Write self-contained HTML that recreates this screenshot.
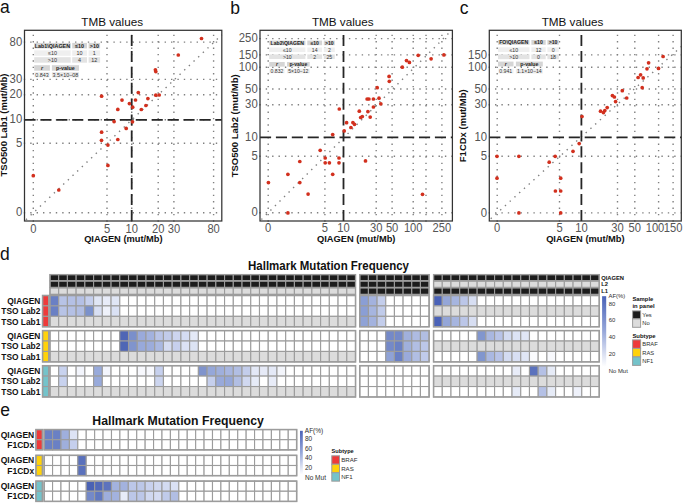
<!DOCTYPE html>
<html><head><meta charset="utf-8"><style>
html,body{margin:0;padding:0;background:#fff;width:685px;height:503px;overflow:hidden;}
svg{display:block;font-family:"Liberation Sans", sans-serif;}
</style></head><body>
<svg width="685" height="503" viewBox="0 0 685 503" font-family='"Liberation Sans", sans-serif'>
<rect x="0" y="0" width="685" height="503" fill="#ffffff"/>
<line x1="33.30" y1="221.70" x2="33.30" y2="30.30" stroke="#808080" stroke-width="1.4" stroke-dasharray="1.4 5.0" />
<line x1="107.00" y1="221.70" x2="107.00" y2="30.30" stroke="#808080" stroke-width="1.4" stroke-dasharray="1.4 5.0" />
<line x1="131.70" y1="221.70" x2="131.70" y2="30.30" stroke="#808080" stroke-width="1.4" stroke-dasharray="1.4 5.0" />
<line x1="158.20" y1="221.70" x2="158.20" y2="30.30" stroke="#808080" stroke-width="1.4" stroke-dasharray="1.4 5.0" />
<line x1="173.90" y1="221.70" x2="173.90" y2="30.30" stroke="#808080" stroke-width="1.4" stroke-dasharray="1.4 5.0" />
<line x1="213.60" y1="221.70" x2="213.60" y2="30.30" stroke="#808080" stroke-width="1.4" stroke-dasharray="1.4 5.0" />
<line x1="23.80" y1="42.10" x2="221.80" y2="42.10" stroke="#808080" stroke-width="1.4" stroke-dasharray="1.4 5.0" />
<line x1="23.80" y1="79.40" x2="221.80" y2="79.40" stroke="#808080" stroke-width="1.4" stroke-dasharray="1.4 5.0" />
<line x1="23.80" y1="94.80" x2="221.80" y2="94.80" stroke="#808080" stroke-width="1.4" stroke-dasharray="1.4 5.0" />
<line x1="23.80" y1="119.80" x2="221.80" y2="119.80" stroke="#808080" stroke-width="1.4" stroke-dasharray="1.4 5.0" />
<line x1="23.80" y1="143.20" x2="221.80" y2="143.20" stroke="#808080" stroke-width="1.4" stroke-dasharray="1.4 5.0" />
<line x1="23.80" y1="212.80" x2="221.80" y2="212.80" stroke="#808080" stroke-width="1.4" stroke-dasharray="1.4 5.0" />
<line x1="24.61" y1="221.00" x2="221.80" y2="34.85" stroke="#808080" stroke-width="1.4" stroke-dasharray="1.4 5.0" stroke-dashoffset="-1.9"/>
<line x1="131.70" y1="221.00" x2="131.70" y2="30.30" stroke="#262626" stroke-width="1.8" stroke-dasharray="11.1 4.8" />
<line x1="24.50" y1="119.80" x2="221.80" y2="119.80" stroke="#262626" stroke-width="1.8" stroke-dasharray="11.1 4.8" />
<rect x="34.20" y="42.90" width="36.50" height="5.50" fill="#d5d5d5" stroke="none" stroke-width="0" />
<rect x="72.20" y="42.90" width="14.80" height="5.50" fill="#d5d5d5" stroke="none" stroke-width="0" />
<rect x="88.60" y="42.90" width="11.50" height="5.50" fill="#d5d5d5" stroke="none" stroke-width="0" />
<rect x="34.20" y="50.30" width="36.50" height="5.50" fill="#efefef" stroke="none" stroke-width="0" />
<rect x="72.20" y="50.30" width="14.80" height="5.50" fill="#efefef" stroke="none" stroke-width="0" />
<rect x="88.60" y="50.30" width="11.50" height="5.50" fill="#efefef" stroke="none" stroke-width="0" />
<rect x="34.20" y="57.20" width="36.50" height="5.50" fill="#e3e3e3" stroke="none" stroke-width="0" />
<rect x="72.20" y="57.20" width="14.80" height="5.50" fill="#e3e3e3" stroke="none" stroke-width="0" />
<rect x="88.60" y="57.20" width="11.50" height="5.50" fill="#e3e3e3" stroke="none" stroke-width="0" />
<rect x="34.20" y="65.20" width="15.70" height="5.50" fill="#d5d5d5" stroke="none" stroke-width="0" />
<rect x="34.20" y="72.00" width="15.70" height="5.50" fill="#f2f2f2" stroke="none" stroke-width="0" />
<rect x="51.90" y="65.20" width="27.10" height="5.50" fill="#d5d5d5" stroke="none" stroke-width="0" />
<rect x="51.90" y="72.00" width="27.10" height="5.50" fill="#ebebeb" stroke="none" stroke-width="0" />
<text x="52.45" y="47.56" font-size="5.4" text-anchor="middle" font-weight="bold" fill="#1e1e1e" >Lab1\QIAGEN</text>
<text x="79.60" y="47.56" font-size="5.4" text-anchor="middle" font-weight="bold" fill="#1e1e1e" >≤10</text>
<text x="94.35" y="47.56" font-size="5.4" text-anchor="middle" font-weight="bold" fill="#1e1e1e" >&gt;10</text>
<text x="52.45" y="54.96" font-size="5.4" text-anchor="middle" font-weight="normal" fill="#333" >≤10</text>
<text x="79.60" y="54.96" font-size="5.4" text-anchor="middle" font-weight="normal" fill="#333" >10</text>
<text x="94.35" y="54.96" font-size="5.4" text-anchor="middle" font-weight="normal" fill="#333" >1</text>
<text x="52.45" y="61.86" font-size="5.4" text-anchor="middle" font-weight="normal" fill="#333" >&gt;10</text>
<text x="79.60" y="61.86" font-size="5.4" text-anchor="middle" font-weight="normal" fill="#333" >4</text>
<text x="94.35" y="61.86" font-size="5.4" text-anchor="middle" font-weight="normal" fill="#333" >12</text>
<text x="42.05" y="69.86" font-size="5.4" text-anchor="middle" font-weight="bold" fill="#1e1e1e" font-style="italic">r</text>
<text x="42.05" y="76.66" font-size="5.4" text-anchor="middle" font-weight="normal" fill="#333" >0.843</text>
<text x="65.45" y="69.86" font-size="5.4" text-anchor="middle" font-weight="bold" fill="#1e1e1e" >p-value</text>
<text x="65.45" y="76.66" font-size="5.4" text-anchor="middle" font-weight="normal" fill="#333" >3.5×10−08</text>
<circle cx="201.5" cy="38.5" r="1.85" fill="#d2301e"/>
<circle cx="178.3" cy="55.0" r="1.85" fill="#d2301e"/>
<circle cx="155.4" cy="69.8" r="1.85" fill="#d2301e"/>
<circle cx="155.8" cy="71.6" r="1.85" fill="#d2301e"/>
<circle cx="138.3" cy="92.6" r="1.85" fill="#d2301e"/>
<circle cx="155.8" cy="95.2" r="1.85" fill="#d2301e"/>
<circle cx="159.2" cy="95.0" r="1.85" fill="#d2301e"/>
<circle cx="147.9" cy="98.6" r="1.85" fill="#d2301e"/>
<circle cx="135.5" cy="100.0" r="1.85" fill="#d2301e"/>
<circle cx="129.4" cy="103.6" r="1.85" fill="#d2301e"/>
<circle cx="145.9" cy="105.5" r="1.85" fill="#d2301e"/>
<circle cx="132.7" cy="107.2" r="1.85" fill="#d2301e"/>
<circle cx="141.3" cy="109.5" r="1.85" fill="#d2301e"/>
<circle cx="132.5" cy="121.8" r="1.85" fill="#d2301e"/>
<circle cx="126.2" cy="128.4" r="1.85" fill="#d2301e"/>
<circle cx="101.6" cy="132.2" r="1.85" fill="#d2301e"/>
<circle cx="101.5" cy="140.3" r="1.85" fill="#d2301e"/>
<circle cx="117.8" cy="139.5" r="1.85" fill="#d2301e"/>
<circle cx="107.9" cy="145.1" r="1.85" fill="#d2301e"/>
<circle cx="107.9" cy="165.4" r="1.85" fill="#d2301e"/>
<circle cx="33.3" cy="175.7" r="1.85" fill="#d2301e"/>
<circle cx="58.8" cy="190.0" r="1.85" fill="#d2301e"/>
<circle cx="101.6" cy="96.2" r="1.85" fill="#d2301e"/>
<circle cx="122.0" cy="100.1" r="1.85" fill="#d2301e"/>
<circle cx="117.8" cy="109.4" r="1.85" fill="#d2301e"/>
<circle cx="114.1" cy="121.6" r="1.85" fill="#d2301e"/>
<rect x="24.50" y="30.30" width="197.30" height="190.70" fill="none" stroke="#333333" stroke-width="1.25" />
<text transform="translate(22.20,45.70) scale(0.9,1)" font-size="12.6" text-anchor="end" font-weight="normal" fill="#555555" >80</text>
<text transform="translate(22.20,82.90) scale(0.9,1)" font-size="12.6" text-anchor="end" font-weight="normal" fill="#555555" >30</text>
<text transform="translate(22.20,98.40) scale(0.9,1)" font-size="12.6" text-anchor="end" font-weight="normal" fill="#555555" >20</text>
<text transform="translate(22.20,123.40) scale(0.9,1)" font-size="12.6" text-anchor="end" font-weight="normal" fill="#555555" >10</text>
<text transform="translate(22.20,146.80) scale(0.9,1)" font-size="12.6" text-anchor="end" font-weight="normal" fill="#555555" >5</text>
<text transform="translate(22.20,216.40) scale(0.9,1)" font-size="12.6" text-anchor="end" font-weight="normal" fill="#555555" >0</text>
<text transform="translate(33.30,233.00) scale(0.91,1)" font-size="12.3" text-anchor="middle" font-weight="normal" fill="#555555" >0</text>
<text transform="translate(107.00,233.00) scale(0.91,1)" font-size="12.3" text-anchor="middle" font-weight="normal" fill="#555555" >5</text>
<text transform="translate(131.70,233.00) scale(0.91,1)" font-size="12.3" text-anchor="middle" font-weight="normal" fill="#555555" >10</text>
<text transform="translate(158.20,233.00) scale(0.91,1)" font-size="12.3" text-anchor="middle" font-weight="normal" fill="#555555" >20</text>
<text transform="translate(173.90,233.00) scale(0.91,1)" font-size="12.3" text-anchor="middle" font-weight="normal" fill="#555555" >30</text>
<text transform="translate(213.60,233.00) scale(0.91,1)" font-size="12.3" text-anchor="middle" font-weight="normal" fill="#555555" >80</text>
<text x="123.40" y="241.50" font-size="9.3" text-anchor="middle" font-weight="bold" fill="#111" >QIAGEN (mut/Mb)</text>
<text x="0" y="0" font-size="9.5" font-weight="bold" fill="#111" text-anchor="middle" transform="translate(7.4,125.0) rotate(-90)">TSO500 Lab1 (mut/Mb)</text>
<text x="112.20" y="25.80" font-size="11.7" text-anchor="middle" font-weight="normal" fill="#111" >TMB values</text>
<text x="0.00" y="13.00" font-size="17.5" text-anchor="start" font-weight="normal" fill="#111" >a</text>
<line x1="268.20" y1="221.70" x2="268.20" y2="30.30" stroke="#808080" stroke-width="1.4" stroke-dasharray="1.4 5.0" />
<line x1="324.90" y1="221.70" x2="324.90" y2="30.30" stroke="#808080" stroke-width="1.4" stroke-dasharray="1.4 5.0" />
<line x1="376.20" y1="221.70" x2="376.20" y2="30.30" stroke="#808080" stroke-width="1.4" stroke-dasharray="1.4 5.0" />
<line x1="392.10" y1="221.70" x2="392.10" y2="30.30" stroke="#808080" stroke-width="1.4" stroke-dasharray="1.4 5.0" />
<line x1="413.20" y1="221.70" x2="413.20" y2="30.30" stroke="#808080" stroke-width="1.4" stroke-dasharray="1.4 5.0" />
<line x1="426.00" y1="221.70" x2="426.00" y2="30.30" stroke="#808080" stroke-width="1.4" stroke-dasharray="1.4 5.0" />
<line x1="441.90" y1="221.70" x2="441.90" y2="30.30" stroke="#808080" stroke-width="1.4" stroke-dasharray="1.4 5.0" />
<line x1="259.30" y1="38.60" x2="452.40" y2="38.60" stroke="#808080" stroke-width="1.4" stroke-dasharray="1.4 5.0" />
<line x1="259.30" y1="54.90" x2="452.40" y2="54.90" stroke="#808080" stroke-width="1.4" stroke-dasharray="1.4 5.0" />
<line x1="259.30" y1="67.20" x2="452.40" y2="67.20" stroke="#808080" stroke-width="1.4" stroke-dasharray="1.4 5.0" />
<line x1="259.30" y1="89.00" x2="452.40" y2="89.00" stroke="#808080" stroke-width="1.4" stroke-dasharray="1.4 5.0" />
<line x1="259.30" y1="104.80" x2="452.40" y2="104.80" stroke="#808080" stroke-width="1.4" stroke-dasharray="1.4 5.0" />
<line x1="259.30" y1="156.20" x2="452.40" y2="156.20" stroke="#808080" stroke-width="1.4" stroke-dasharray="1.4 5.0" />
<line x1="259.30" y1="212.80" x2="452.40" y2="212.80" stroke="#808080" stroke-width="1.4" stroke-dasharray="1.4 5.0" />
<line x1="260.00" y1="220.95" x2="451.74" y2="30.30" stroke="#808080" stroke-width="1.4" stroke-dasharray="1.4 5.0" stroke-dashoffset="-1.9"/>
<line x1="343.50" y1="221.00" x2="343.50" y2="30.30" stroke="#262626" stroke-width="1.8" stroke-dasharray="11.1 4.8" />
<line x1="260.00" y1="137.40" x2="452.40" y2="137.40" stroke="#262626" stroke-width="1.8" stroke-dasharray="11.1 4.8" />
<rect x="269.20" y="40.60" width="36.20" height="4.60" fill="#d5d5d5" stroke="none" stroke-width="0" />
<rect x="307.30" y="40.60" width="14.80" height="4.60" fill="#d5d5d5" stroke="none" stroke-width="0" />
<rect x="323.80" y="40.60" width="11.00" height="4.60" fill="#d5d5d5" stroke="none" stroke-width="0" />
<rect x="269.20" y="47.50" width="36.20" height="4.60" fill="#efefef" stroke="none" stroke-width="0" />
<rect x="307.30" y="47.50" width="14.80" height="4.60" fill="#efefef" stroke="none" stroke-width="0" />
<rect x="323.80" y="47.50" width="11.00" height="4.60" fill="#efefef" stroke="none" stroke-width="0" />
<rect x="269.20" y="54.40" width="36.20" height="4.60" fill="#e3e3e3" stroke="none" stroke-width="0" />
<rect x="307.30" y="54.40" width="14.80" height="4.60" fill="#e3e3e3" stroke="none" stroke-width="0" />
<rect x="323.80" y="54.40" width="11.00" height="4.60" fill="#e3e3e3" stroke="none" stroke-width="0" />
<rect x="269.20" y="62.00" width="15.50" height="4.60" fill="#d5d5d5" stroke="none" stroke-width="0" />
<rect x="269.20" y="68.70" width="15.50" height="4.60" fill="#f2f2f2" stroke="none" stroke-width="0" />
<rect x="287.00" y="62.00" width="22.70" height="4.60" fill="#d5d5d5" stroke="none" stroke-width="0" />
<rect x="287.00" y="68.70" width="22.70" height="4.60" fill="#ebebeb" stroke="none" stroke-width="0" />
<text x="287.30" y="44.74" font-size="5.1" text-anchor="middle" font-weight="bold" fill="#1e1e1e" >Lab2\QIAGEN</text>
<text x="314.70" y="44.74" font-size="5.1" text-anchor="middle" font-weight="bold" fill="#1e1e1e" >≤10</text>
<text x="329.30" y="44.74" font-size="5.1" text-anchor="middle" font-weight="bold" fill="#1e1e1e" >&gt;10</text>
<text x="287.30" y="51.64" font-size="5.1" text-anchor="middle" font-weight="normal" fill="#333" >≤10</text>
<text x="314.70" y="51.64" font-size="5.1" text-anchor="middle" font-weight="normal" fill="#333" >14</text>
<text x="329.30" y="51.64" font-size="5.1" text-anchor="middle" font-weight="normal" fill="#333" >2</text>
<text x="287.30" y="58.54" font-size="5.1" text-anchor="middle" font-weight="normal" fill="#333" >&gt;10</text>
<text x="314.70" y="58.54" font-size="5.1" text-anchor="middle" font-weight="normal" fill="#333" >2</text>
<text x="329.30" y="58.54" font-size="5.1" text-anchor="middle" font-weight="normal" fill="#333" >25</text>
<text x="276.95" y="66.14" font-size="5.1" text-anchor="middle" font-weight="bold" fill="#1e1e1e" font-style="italic">r</text>
<text x="276.95" y="72.84" font-size="5.1" text-anchor="middle" font-weight="normal" fill="#333" >0.832</text>
<text x="298.35" y="66.14" font-size="5.1" text-anchor="middle" font-weight="bold" fill="#1e1e1e" >p-value</text>
<text x="298.35" y="72.84" font-size="5.1" text-anchor="middle" font-weight="normal" fill="#333" >5×10−12</text>
<circle cx="418.2" cy="55.3" r="1.85" fill="#d2301e"/>
<circle cx="431.1" cy="58.8" r="1.85" fill="#d2301e"/>
<circle cx="443.9" cy="54.9" r="1.85" fill="#d2301e"/>
<circle cx="406.5" cy="60.6" r="1.85" fill="#d2301e"/>
<circle cx="409.4" cy="62.4" r="1.85" fill="#d2301e"/>
<circle cx="402.3" cy="67.2" r="1.85" fill="#d2301e"/>
<circle cx="389.1" cy="76.4" r="1.85" fill="#d2301e"/>
<circle cx="389.3" cy="81.3" r="1.85" fill="#d2301e"/>
<circle cx="377.2" cy="87.7" r="1.85" fill="#d2301e"/>
<circle cx="367.1" cy="99.0" r="1.85" fill="#d2301e"/>
<circle cx="368.9" cy="99.0" r="1.85" fill="#d2301e"/>
<circle cx="373.4" cy="99.0" r="1.85" fill="#d2301e"/>
<circle cx="379.0" cy="98.2" r="1.85" fill="#d2301e"/>
<circle cx="380.8" cy="103.8" r="1.85" fill="#d2301e"/>
<circle cx="373.4" cy="107.0" r="1.85" fill="#d2301e"/>
<circle cx="359.3" cy="111.2" r="1.85" fill="#d2301e"/>
<circle cx="367.9" cy="111.6" r="1.85" fill="#d2301e"/>
<circle cx="360.7" cy="117.5" r="1.85" fill="#d2301e"/>
<circle cx="362.3" cy="116.5" r="1.85" fill="#d2301e"/>
<circle cx="370.2" cy="117.1" r="1.85" fill="#d2301e"/>
<circle cx="346.6" cy="122.7" r="1.85" fill="#d2301e"/>
<circle cx="352.9" cy="122.5" r="1.85" fill="#d2301e"/>
<circle cx="354.5" cy="124.3" r="1.85" fill="#d2301e"/>
<circle cx="350.9" cy="127.5" r="1.85" fill="#d2301e"/>
<circle cx="344.2" cy="130.9" r="1.85" fill="#d2301e"/>
<circle cx="365.5" cy="160.9" r="1.85" fill="#d2301e"/>
<circle cx="422.5" cy="194.3" r="1.85" fill="#d2301e"/>
<circle cx="332.7" cy="134.6" r="1.85" fill="#d2301e"/>
<circle cx="320.2" cy="150.3" r="1.85" fill="#d2301e"/>
<circle cx="325.2" cy="158.0" r="1.85" fill="#d2301e"/>
<circle cx="339.0" cy="158.0" r="1.85" fill="#d2301e"/>
<circle cx="299.8" cy="161.5" r="1.85" fill="#d2301e"/>
<circle cx="325.2" cy="162.8" r="1.85" fill="#d2301e"/>
<circle cx="329.4" cy="162.8" r="1.85" fill="#d2301e"/>
<circle cx="339.0" cy="162.8" r="1.85" fill="#d2301e"/>
<circle cx="287.9" cy="174.3" r="1.85" fill="#d2301e"/>
<circle cx="332.7" cy="174.3" r="1.85" fill="#d2301e"/>
<circle cx="268.4" cy="182.6" r="1.85" fill="#d2301e"/>
<circle cx="299.8" cy="182.6" r="1.85" fill="#d2301e"/>
<circle cx="308.1" cy="194.1" r="1.85" fill="#d2301e"/>
<circle cx="287.9" cy="212.9" r="1.85" fill="#d2301e"/>
<circle cx="339.3" cy="109.0" r="1.85" fill="#d2301e"/>
<rect x="260.00" y="30.30" width="192.40" height="190.70" fill="none" stroke="#333333" stroke-width="1.25" />
<text transform="translate(257.70,42.20) scale(0.9,1)" font-size="12.6" text-anchor="end" font-weight="normal" fill="#555555" >250</text>
<text transform="translate(257.70,58.50) scale(0.9,1)" font-size="12.6" text-anchor="end" font-weight="normal" fill="#555555" >150</text>
<text transform="translate(257.70,70.80) scale(0.9,1)" font-size="12.6" text-anchor="end" font-weight="normal" fill="#555555" >100</text>
<text transform="translate(257.70,92.60) scale(0.9,1)" font-size="12.6" text-anchor="end" font-weight="normal" fill="#555555" >50</text>
<text transform="translate(257.70,108.40) scale(0.9,1)" font-size="12.6" text-anchor="end" font-weight="normal" fill="#555555" >30</text>
<text transform="translate(257.70,141.00) scale(0.9,1)" font-size="12.6" text-anchor="end" font-weight="normal" fill="#555555" >10</text>
<text transform="translate(257.70,159.80) scale(0.9,1)" font-size="12.6" text-anchor="end" font-weight="normal" fill="#555555" >5</text>
<text transform="translate(257.70,216.40) scale(0.9,1)" font-size="12.6" text-anchor="end" font-weight="normal" fill="#555555" >0</text>
<text transform="translate(268.20,232.20) scale(0.91,1)" font-size="12.3" text-anchor="middle" font-weight="normal" fill="#555555" >0</text>
<text transform="translate(324.90,232.20) scale(0.91,1)" font-size="12.3" text-anchor="middle" font-weight="normal" fill="#555555" >5</text>
<text transform="translate(343.50,232.20) scale(0.91,1)" font-size="12.3" text-anchor="middle" font-weight="normal" fill="#555555" >10</text>
<text transform="translate(376.20,232.20) scale(0.91,1)" font-size="12.3" text-anchor="middle" font-weight="normal" fill="#555555" >30</text>
<text transform="translate(392.10,232.20) scale(0.91,1)" font-size="12.3" text-anchor="middle" font-weight="normal" fill="#555555" >50</text>
<text transform="translate(413.20,232.20) scale(0.91,1)" font-size="12.3" text-anchor="middle" font-weight="normal" fill="#555555" >100</text>
<text transform="translate(441.90,232.20) scale(0.91,1)" font-size="12.3" text-anchor="middle" font-weight="normal" fill="#555555" >250</text>
<text x="356.20" y="241.50" font-size="9.3" text-anchor="middle" font-weight="bold" fill="#111" >QIAGEN (mut/Mb)</text>
<text x="0" y="0" font-size="9.5" font-weight="bold" fill="#111" text-anchor="middle" transform="translate(238.3,125.8) rotate(-90)">TSO500 Lab2 (mut/Mb)</text>
<text x="342.80" y="25.80" font-size="11.7" text-anchor="middle" font-weight="normal" fill="#111" >TMB values</text>
<text x="230.20" y="13.80" font-size="17.5" text-anchor="start" font-weight="normal" fill="#111" >b</text>
<line x1="497.20" y1="221.70" x2="497.20" y2="30.30" stroke="#808080" stroke-width="1.4" stroke-dasharray="1.4 5.0" />
<line x1="559.50" y1="221.70" x2="559.50" y2="30.30" stroke="#808080" stroke-width="1.4" stroke-dasharray="1.4 5.0" />
<line x1="617.50" y1="221.70" x2="617.50" y2="30.30" stroke="#808080" stroke-width="1.4" stroke-dasharray="1.4 5.0" />
<line x1="634.80" y1="221.70" x2="634.80" y2="30.30" stroke="#808080" stroke-width="1.4" stroke-dasharray="1.4 5.0" />
<line x1="658.60" y1="221.70" x2="658.60" y2="30.30" stroke="#808080" stroke-width="1.4" stroke-dasharray="1.4 5.0" />
<line x1="673.10" y1="221.70" x2="673.10" y2="30.30" stroke="#808080" stroke-width="1.4" stroke-dasharray="1.4 5.0" />
<line x1="488.60" y1="54.90" x2="681.30" y2="54.90" stroke="#808080" stroke-width="1.4" stroke-dasharray="1.4 5.0" />
<line x1="488.60" y1="67.20" x2="681.30" y2="67.20" stroke="#808080" stroke-width="1.4" stroke-dasharray="1.4 5.0" />
<line x1="488.60" y1="89.00" x2="681.30" y2="89.00" stroke="#808080" stroke-width="1.4" stroke-dasharray="1.4 5.0" />
<line x1="488.60" y1="104.80" x2="681.30" y2="104.80" stroke="#808080" stroke-width="1.4" stroke-dasharray="1.4 5.0" />
<line x1="488.60" y1="156.30" x2="681.30" y2="156.30" stroke="#808080" stroke-width="1.4" stroke-dasharray="1.4 5.0" />
<line x1="488.60" y1="212.90" x2="681.30" y2="212.90" stroke="#808080" stroke-width="1.4" stroke-dasharray="1.4 5.0" />
<line x1="489.30" y1="220.04" x2="681.30" y2="46.58" stroke="#808080" stroke-width="1.4" stroke-dasharray="1.4 5.0" stroke-dashoffset="-1.9"/>
<line x1="581.40" y1="221.00" x2="581.40" y2="30.30" stroke="#262626" stroke-width="1.8" stroke-dasharray="11.1 4.8" />
<line x1="489.30" y1="137.30" x2="681.30" y2="137.30" stroke="#262626" stroke-width="1.8" stroke-dasharray="11.1 4.8" />
<rect x="498.00" y="40.00" width="31.50" height="4.80" fill="#d5d5d5" stroke="none" stroke-width="0" />
<rect x="531.40" y="40.00" width="14.30" height="4.80" fill="#d5d5d5" stroke="none" stroke-width="0" />
<rect x="547.40" y="40.00" width="11.40" height="4.80" fill="#d5d5d5" stroke="none" stroke-width="0" />
<rect x="498.00" y="47.30" width="31.50" height="4.80" fill="#efefef" stroke="none" stroke-width="0" />
<rect x="531.40" y="47.30" width="14.30" height="4.80" fill="#efefef" stroke="none" stroke-width="0" />
<rect x="547.40" y="47.30" width="11.40" height="4.80" fill="#efefef" stroke="none" stroke-width="0" />
<rect x="498.00" y="54.40" width="31.50" height="4.80" fill="#e3e3e3" stroke="none" stroke-width="0" />
<rect x="531.40" y="54.40" width="14.30" height="4.80" fill="#e3e3e3" stroke="none" stroke-width="0" />
<rect x="547.40" y="54.40" width="11.40" height="4.80" fill="#e3e3e3" stroke="none" stroke-width="0" />
<rect x="498.00" y="61.60" width="15.50" height="4.80" fill="#d5d5d5" stroke="none" stroke-width="0" />
<rect x="498.00" y="68.70" width="15.50" height="4.80" fill="#f2f2f2" stroke="none" stroke-width="0" />
<rect x="515.90" y="61.60" width="26.90" height="4.80" fill="#d5d5d5" stroke="none" stroke-width="0" />
<rect x="515.90" y="68.70" width="26.90" height="4.80" fill="#ebebeb" stroke="none" stroke-width="0" />
<text x="513.75" y="44.27" font-size="5.2" text-anchor="middle" font-weight="bold" fill="#1e1e1e" >FO\QIAGEN</text>
<text x="538.55" y="44.27" font-size="5.2" text-anchor="middle" font-weight="bold" fill="#1e1e1e" >≤10</text>
<text x="553.10" y="44.27" font-size="5.2" text-anchor="middle" font-weight="bold" fill="#1e1e1e" >&gt;10</text>
<text x="513.75" y="51.57" font-size="5.2" text-anchor="middle" font-weight="normal" fill="#333" >≤10</text>
<text x="538.55" y="51.57" font-size="5.2" text-anchor="middle" font-weight="normal" fill="#333" >12</text>
<text x="553.10" y="51.57" font-size="5.2" text-anchor="middle" font-weight="normal" fill="#333" >0</text>
<text x="513.75" y="58.67" font-size="5.2" text-anchor="middle" font-weight="normal" fill="#333" >&gt;10</text>
<text x="538.55" y="58.67" font-size="5.2" text-anchor="middle" font-weight="normal" fill="#333" >0</text>
<text x="553.10" y="58.67" font-size="5.2" text-anchor="middle" font-weight="normal" fill="#333" >18</text>
<text x="505.75" y="65.87" font-size="5.2" text-anchor="middle" font-weight="bold" fill="#1e1e1e" font-style="italic">r</text>
<text x="505.75" y="72.97" font-size="5.2" text-anchor="middle" font-weight="normal" fill="#333" >0.941</text>
<text x="529.35" y="65.87" font-size="5.2" text-anchor="middle" font-weight="bold" fill="#1e1e1e" >p-value</text>
<text x="529.35" y="72.97" font-size="5.2" text-anchor="middle" font-weight="normal" fill="#333" >1.1×10−14</text>
<circle cx="663.1" cy="56.5" r="1.85" fill="#d2301e"/>
<circle cx="648.6" cy="62.8" r="1.85" fill="#d2301e"/>
<circle cx="647.0" cy="68.8" r="1.85" fill="#d2301e"/>
<circle cx="658.5" cy="68.4" r="1.85" fill="#d2301e"/>
<circle cx="640.6" cy="74.8" r="1.85" fill="#d2301e"/>
<circle cx="638.1" cy="77.5" r="1.85" fill="#d2301e"/>
<circle cx="643.2" cy="77.9" r="1.85" fill="#d2301e"/>
<circle cx="642.2" cy="87.7" r="1.85" fill="#d2301e"/>
<circle cx="622.3" cy="90.7" r="1.85" fill="#d2301e"/>
<circle cx="612.4" cy="95.6" r="1.85" fill="#d2301e"/>
<circle cx="614.4" cy="97.0" r="1.85" fill="#d2301e"/>
<circle cx="626.7" cy="98.0" r="1.85" fill="#d2301e"/>
<circle cx="615.6" cy="101.6" r="1.85" fill="#d2301e"/>
<circle cx="607.2" cy="107.6" r="1.85" fill="#d2301e"/>
<circle cx="600.5" cy="111.2" r="1.85" fill="#d2301e"/>
<circle cx="604.8" cy="110.6" r="1.85" fill="#d2301e"/>
<circle cx="603.4" cy="112.6" r="1.85" fill="#d2301e"/>
<circle cx="582.0" cy="116.5" r="1.85" fill="#d2301e"/>
<circle cx="579.2" cy="143.6" r="1.85" fill="#d2301e"/>
<circle cx="573.0" cy="151.3" r="1.85" fill="#d2301e"/>
<circle cx="497.0" cy="156.3" r="1.85" fill="#d2301e"/>
<circle cx="518.9" cy="156.3" r="1.85" fill="#d2301e"/>
<circle cx="555.2" cy="156.3" r="1.85" fill="#d2301e"/>
<circle cx="549.2" cy="162.2" r="1.85" fill="#d2301e"/>
<circle cx="497.0" cy="178.2" r="1.85" fill="#d2301e"/>
<circle cx="560.7" cy="178.2" r="1.85" fill="#d2301e"/>
<circle cx="555.4" cy="191.0" r="1.85" fill="#d2301e"/>
<circle cx="560.7" cy="191.0" r="1.85" fill="#d2301e"/>
<circle cx="518.9" cy="212.9" r="1.85" fill="#d2301e"/>
<circle cx="560.7" cy="212.9" r="1.85" fill="#d2301e"/>
<rect x="489.30" y="30.30" width="192.00" height="190.70" fill="none" stroke="#333333" stroke-width="1.25" />
<text transform="translate(487.00,58.50) scale(0.9,1)" font-size="12.6" text-anchor="end" font-weight="normal" fill="#555555" >150</text>
<text transform="translate(487.00,70.80) scale(0.9,1)" font-size="12.6" text-anchor="end" font-weight="normal" fill="#555555" >100</text>
<text transform="translate(487.00,92.60) scale(0.9,1)" font-size="12.6" text-anchor="end" font-weight="normal" fill="#555555" >50</text>
<text transform="translate(487.00,108.40) scale(0.9,1)" font-size="12.6" text-anchor="end" font-weight="normal" fill="#555555" >30</text>
<text transform="translate(487.00,140.90) scale(0.9,1)" font-size="12.6" text-anchor="end" font-weight="normal" fill="#555555" >10</text>
<text transform="translate(487.00,159.90) scale(0.9,1)" font-size="12.6" text-anchor="end" font-weight="normal" fill="#555555" >5</text>
<text transform="translate(487.00,216.50) scale(0.9,1)" font-size="12.6" text-anchor="end" font-weight="normal" fill="#555555" >0</text>
<text transform="translate(497.20,232.20) scale(0.91,1)" font-size="12.3" text-anchor="middle" font-weight="normal" fill="#555555" >0</text>
<text transform="translate(559.50,232.20) scale(0.91,1)" font-size="12.3" text-anchor="middle" font-weight="normal" fill="#555555" >5</text>
<text transform="translate(581.40,232.20) scale(0.91,1)" font-size="12.3" text-anchor="middle" font-weight="normal" fill="#555555" >10</text>
<text transform="translate(617.50,232.20) scale(0.91,1)" font-size="12.3" text-anchor="middle" font-weight="normal" fill="#555555" >30</text>
<text transform="translate(634.80,232.20) scale(0.91,1)" font-size="12.3" text-anchor="middle" font-weight="normal" fill="#555555" >50</text>
<text transform="translate(655.00,232.20) scale(0.91,1)" font-size="12.3" text-anchor="middle" font-weight="normal" fill="#555555" >100</text>
<text transform="translate(673.10,232.20) scale(0.91,1)" font-size="12.3" text-anchor="middle" font-weight="normal" fill="#555555" >150</text>
<text x="585.40" y="241.50" font-size="9.3" text-anchor="middle" font-weight="bold" fill="#111" >QIAGEN (mut/Mb)</text>
<text x="0" y="0" font-size="9.5" font-weight="bold" fill="#111" text-anchor="middle" transform="translate(466.1,125.8) rotate(-90)">F1CDx (mut/Mb)</text>
<text x="572.50" y="25.80" font-size="11.7" text-anchor="middle" font-weight="normal" fill="#111" >TMB values</text>
<text x="459.70" y="13.60" font-size="17.5" text-anchor="start" font-weight="normal" fill="#111" >c</text>
<text x="0.00" y="259.90" font-size="17.5" text-anchor="start" font-weight="normal" fill="#111" >d</text>
<text transform="translate(328.50,269.70) scale(0.95,1)" font-size="12.1" text-anchor="middle" font-weight="bold" fill="#111" >Hallmark Mutation Frequency</text>
<rect x="49.95" y="274.60" width="8.73" height="6.20" fill="#1c1c1c" stroke="#9c9c9c" stroke-width="1.1" />
<rect x="58.68" y="274.60" width="8.73" height="6.20" fill="#1c1c1c" stroke="#9c9c9c" stroke-width="1.1" />
<rect x="67.41" y="274.60" width="8.73" height="6.20" fill="#1c1c1c" stroke="#9c9c9c" stroke-width="1.1" />
<rect x="76.14" y="274.60" width="8.73" height="6.20" fill="#1c1c1c" stroke="#9c9c9c" stroke-width="1.1" />
<rect x="84.87" y="274.60" width="8.73" height="6.20" fill="#1c1c1c" stroke="#9c9c9c" stroke-width="1.1" />
<rect x="93.61" y="274.60" width="8.73" height="6.20" fill="#1c1c1c" stroke="#9c9c9c" stroke-width="1.1" />
<rect x="102.34" y="274.60" width="8.73" height="6.20" fill="#1c1c1c" stroke="#9c9c9c" stroke-width="1.1" />
<rect x="111.07" y="274.60" width="8.73" height="6.20" fill="#1c1c1c" stroke="#9c9c9c" stroke-width="1.1" />
<rect x="119.80" y="274.60" width="8.73" height="6.20" fill="#1c1c1c" stroke="#9c9c9c" stroke-width="1.1" />
<rect x="128.53" y="274.60" width="8.73" height="6.20" fill="#1c1c1c" stroke="#9c9c9c" stroke-width="1.1" />
<rect x="137.26" y="274.60" width="8.73" height="6.20" fill="#1c1c1c" stroke="#9c9c9c" stroke-width="1.1" />
<rect x="145.99" y="274.60" width="8.73" height="6.20" fill="#1c1c1c" stroke="#9c9c9c" stroke-width="1.1" />
<rect x="154.72" y="274.60" width="8.73" height="6.20" fill="#1c1c1c" stroke="#9c9c9c" stroke-width="1.1" />
<rect x="163.45" y="274.60" width="8.73" height="6.20" fill="#1c1c1c" stroke="#9c9c9c" stroke-width="1.1" />
<rect x="172.18" y="274.60" width="8.73" height="6.20" fill="#1c1c1c" stroke="#9c9c9c" stroke-width="1.1" />
<rect x="180.92" y="274.60" width="8.73" height="6.20" fill="#1c1c1c" stroke="#9c9c9c" stroke-width="1.1" />
<rect x="189.65" y="274.60" width="8.73" height="6.20" fill="#1c1c1c" stroke="#9c9c9c" stroke-width="1.1" />
<rect x="198.38" y="274.60" width="8.73" height="6.20" fill="#1c1c1c" stroke="#9c9c9c" stroke-width="1.1" />
<rect x="207.11" y="274.60" width="8.73" height="6.20" fill="#1c1c1c" stroke="#9c9c9c" stroke-width="1.1" />
<rect x="215.84" y="274.60" width="8.73" height="6.20" fill="#1c1c1c" stroke="#9c9c9c" stroke-width="1.1" />
<rect x="224.57" y="274.60" width="8.73" height="6.20" fill="#1c1c1c" stroke="#9c9c9c" stroke-width="1.1" />
<rect x="233.30" y="274.60" width="8.73" height="6.20" fill="#1c1c1c" stroke="#9c9c9c" stroke-width="1.1" />
<rect x="242.03" y="274.60" width="8.73" height="6.20" fill="#1c1c1c" stroke="#9c9c9c" stroke-width="1.1" />
<rect x="250.76" y="274.60" width="8.73" height="6.20" fill="#1c1c1c" stroke="#9c9c9c" stroke-width="1.1" />
<rect x="259.49" y="274.60" width="8.73" height="6.20" fill="#1c1c1c" stroke="#9c9c9c" stroke-width="1.1" />
<rect x="268.23" y="274.60" width="8.73" height="6.20" fill="#1c1c1c" stroke="#9c9c9c" stroke-width="1.1" />
<rect x="276.96" y="274.60" width="8.73" height="6.20" fill="#1c1c1c" stroke="#9c9c9c" stroke-width="1.1" />
<rect x="285.69" y="274.60" width="8.73" height="6.20" fill="#1c1c1c" stroke="#9c9c9c" stroke-width="1.1" />
<rect x="294.42" y="274.60" width="8.73" height="6.20" fill="#1c1c1c" stroke="#9c9c9c" stroke-width="1.1" />
<rect x="303.15" y="274.60" width="8.73" height="6.20" fill="#1c1c1c" stroke="#9c9c9c" stroke-width="1.1" />
<rect x="311.88" y="274.60" width="8.73" height="6.20" fill="#1c1c1c" stroke="#9c9c9c" stroke-width="1.1" />
<rect x="320.61" y="274.60" width="8.73" height="6.20" fill="#1c1c1c" stroke="#9c9c9c" stroke-width="1.1" />
<rect x="329.34" y="274.60" width="8.73" height="6.20" fill="#1c1c1c" stroke="#9c9c9c" stroke-width="1.1" />
<rect x="338.07" y="274.60" width="8.73" height="6.20" fill="#1c1c1c" stroke="#9c9c9c" stroke-width="1.1" />
<rect x="346.80" y="274.60" width="8.73" height="6.20" fill="#1c1c1c" stroke="#9c9c9c" stroke-width="1.1" />
<rect x="49.95" y="280.80" width="8.73" height="6.80" fill="#1c1c1c" stroke="#9c9c9c" stroke-width="1.1" />
<rect x="58.68" y="280.80" width="8.73" height="6.80" fill="#1c1c1c" stroke="#9c9c9c" stroke-width="1.1" />
<rect x="67.41" y="280.80" width="8.73" height="6.80" fill="#1c1c1c" stroke="#9c9c9c" stroke-width="1.1" />
<rect x="76.14" y="280.80" width="8.73" height="6.80" fill="#1c1c1c" stroke="#9c9c9c" stroke-width="1.1" />
<rect x="84.87" y="280.80" width="8.73" height="6.80" fill="#1c1c1c" stroke="#9c9c9c" stroke-width="1.1" />
<rect x="93.61" y="280.80" width="8.73" height="6.80" fill="#1c1c1c" stroke="#9c9c9c" stroke-width="1.1" />
<rect x="102.34" y="280.80" width="8.73" height="6.80" fill="#1c1c1c" stroke="#9c9c9c" stroke-width="1.1" />
<rect x="111.07" y="280.80" width="8.73" height="6.80" fill="#1c1c1c" stroke="#9c9c9c" stroke-width="1.1" />
<rect x="119.80" y="280.80" width="8.73" height="6.80" fill="#1c1c1c" stroke="#9c9c9c" stroke-width="1.1" />
<rect x="128.53" y="280.80" width="8.73" height="6.80" fill="#1c1c1c" stroke="#9c9c9c" stroke-width="1.1" />
<rect x="137.26" y="280.80" width="8.73" height="6.80" fill="#1c1c1c" stroke="#9c9c9c" stroke-width="1.1" />
<rect x="145.99" y="280.80" width="8.73" height="6.80" fill="#1c1c1c" stroke="#9c9c9c" stroke-width="1.1" />
<rect x="154.72" y="280.80" width="8.73" height="6.80" fill="#1c1c1c" stroke="#9c9c9c" stroke-width="1.1" />
<rect x="163.45" y="280.80" width="8.73" height="6.80" fill="#1c1c1c" stroke="#9c9c9c" stroke-width="1.1" />
<rect x="172.18" y="280.80" width="8.73" height="6.80" fill="#1c1c1c" stroke="#9c9c9c" stroke-width="1.1" />
<rect x="180.92" y="280.80" width="8.73" height="6.80" fill="#1c1c1c" stroke="#9c9c9c" stroke-width="1.1" />
<rect x="189.65" y="280.80" width="8.73" height="6.80" fill="#1c1c1c" stroke="#9c9c9c" stroke-width="1.1" />
<rect x="198.38" y="280.80" width="8.73" height="6.80" fill="#1c1c1c" stroke="#9c9c9c" stroke-width="1.1" />
<rect x="207.11" y="280.80" width="8.73" height="6.80" fill="#1c1c1c" stroke="#9c9c9c" stroke-width="1.1" />
<rect x="215.84" y="280.80" width="8.73" height="6.80" fill="#1c1c1c" stroke="#9c9c9c" stroke-width="1.1" />
<rect x="224.57" y="280.80" width="8.73" height="6.80" fill="#1c1c1c" stroke="#9c9c9c" stroke-width="1.1" />
<rect x="233.30" y="280.80" width="8.73" height="6.80" fill="#1c1c1c" stroke="#9c9c9c" stroke-width="1.1" />
<rect x="242.03" y="280.80" width="8.73" height="6.80" fill="#1c1c1c" stroke="#9c9c9c" stroke-width="1.1" />
<rect x="250.76" y="280.80" width="8.73" height="6.80" fill="#1c1c1c" stroke="#9c9c9c" stroke-width="1.1" />
<rect x="259.49" y="280.80" width="8.73" height="6.80" fill="#1c1c1c" stroke="#9c9c9c" stroke-width="1.1" />
<rect x="268.23" y="280.80" width="8.73" height="6.80" fill="#1c1c1c" stroke="#9c9c9c" stroke-width="1.1" />
<rect x="276.96" y="280.80" width="8.73" height="6.80" fill="#1c1c1c" stroke="#9c9c9c" stroke-width="1.1" />
<rect x="285.69" y="280.80" width="8.73" height="6.80" fill="#1c1c1c" stroke="#9c9c9c" stroke-width="1.1" />
<rect x="294.42" y="280.80" width="8.73" height="6.80" fill="#1c1c1c" stroke="#9c9c9c" stroke-width="1.1" />
<rect x="303.15" y="280.80" width="8.73" height="6.80" fill="#1c1c1c" stroke="#9c9c9c" stroke-width="1.1" />
<rect x="311.88" y="280.80" width="8.73" height="6.80" fill="#1c1c1c" stroke="#9c9c9c" stroke-width="1.1" />
<rect x="320.61" y="280.80" width="8.73" height="6.80" fill="#1c1c1c" stroke="#9c9c9c" stroke-width="1.1" />
<rect x="329.34" y="280.80" width="8.73" height="6.80" fill="#1c1c1c" stroke="#9c9c9c" stroke-width="1.1" />
<rect x="338.07" y="280.80" width="8.73" height="6.80" fill="#1c1c1c" stroke="#9c9c9c" stroke-width="1.1" />
<rect x="346.80" y="280.80" width="8.73" height="6.80" fill="#1c1c1c" stroke="#9c9c9c" stroke-width="1.1" />
<rect x="49.95" y="287.60" width="8.73" height="6.85" fill="#dcdcdc" stroke="#9c9c9c" stroke-width="1.1" />
<rect x="58.68" y="287.60" width="8.73" height="6.85" fill="#dcdcdc" stroke="#9c9c9c" stroke-width="1.1" />
<rect x="67.41" y="287.60" width="8.73" height="6.85" fill="#dcdcdc" stroke="#9c9c9c" stroke-width="1.1" />
<rect x="76.14" y="287.60" width="8.73" height="6.85" fill="#dcdcdc" stroke="#9c9c9c" stroke-width="1.1" />
<rect x="84.87" y="287.60" width="8.73" height="6.85" fill="#dcdcdc" stroke="#9c9c9c" stroke-width="1.1" />
<rect x="93.61" y="287.60" width="8.73" height="6.85" fill="#dcdcdc" stroke="#9c9c9c" stroke-width="1.1" />
<rect x="102.34" y="287.60" width="8.73" height="6.85" fill="#dcdcdc" stroke="#9c9c9c" stroke-width="1.1" />
<rect x="111.07" y="287.60" width="8.73" height="6.85" fill="#dcdcdc" stroke="#9c9c9c" stroke-width="1.1" />
<rect x="119.80" y="287.60" width="8.73" height="6.85" fill="#dcdcdc" stroke="#9c9c9c" stroke-width="1.1" />
<rect x="128.53" y="287.60" width="8.73" height="6.85" fill="#dcdcdc" stroke="#9c9c9c" stroke-width="1.1" />
<rect x="137.26" y="287.60" width="8.73" height="6.85" fill="#dcdcdc" stroke="#9c9c9c" stroke-width="1.1" />
<rect x="145.99" y="287.60" width="8.73" height="6.85" fill="#dcdcdc" stroke="#9c9c9c" stroke-width="1.1" />
<rect x="154.72" y="287.60" width="8.73" height="6.85" fill="#dcdcdc" stroke="#9c9c9c" stroke-width="1.1" />
<rect x="163.45" y="287.60" width="8.73" height="6.85" fill="#dcdcdc" stroke="#9c9c9c" stroke-width="1.1" />
<rect x="172.18" y="287.60" width="8.73" height="6.85" fill="#dcdcdc" stroke="#9c9c9c" stroke-width="1.1" />
<rect x="180.92" y="287.60" width="8.73" height="6.85" fill="#dcdcdc" stroke="#9c9c9c" stroke-width="1.1" />
<rect x="189.65" y="287.60" width="8.73" height="6.85" fill="#dcdcdc" stroke="#9c9c9c" stroke-width="1.1" />
<rect x="198.38" y="287.60" width="8.73" height="6.85" fill="#dcdcdc" stroke="#9c9c9c" stroke-width="1.1" />
<rect x="207.11" y="287.60" width="8.73" height="6.85" fill="#dcdcdc" stroke="#9c9c9c" stroke-width="1.1" />
<rect x="215.84" y="287.60" width="8.73" height="6.85" fill="#dcdcdc" stroke="#9c9c9c" stroke-width="1.1" />
<rect x="224.57" y="287.60" width="8.73" height="6.85" fill="#dcdcdc" stroke="#9c9c9c" stroke-width="1.1" />
<rect x="233.30" y="287.60" width="8.73" height="6.85" fill="#dcdcdc" stroke="#9c9c9c" stroke-width="1.1" />
<rect x="242.03" y="287.60" width="8.73" height="6.85" fill="#dcdcdc" stroke="#9c9c9c" stroke-width="1.1" />
<rect x="250.76" y="287.60" width="8.73" height="6.85" fill="#dcdcdc" stroke="#9c9c9c" stroke-width="1.1" />
<rect x="259.49" y="287.60" width="8.73" height="6.85" fill="#dcdcdc" stroke="#9c9c9c" stroke-width="1.1" />
<rect x="268.23" y="287.60" width="8.73" height="6.85" fill="#dcdcdc" stroke="#9c9c9c" stroke-width="1.1" />
<rect x="276.96" y="287.60" width="8.73" height="6.85" fill="#dcdcdc" stroke="#9c9c9c" stroke-width="1.1" />
<rect x="285.69" y="287.60" width="8.73" height="6.85" fill="#dcdcdc" stroke="#9c9c9c" stroke-width="1.1" />
<rect x="294.42" y="287.60" width="8.73" height="6.85" fill="#dcdcdc" stroke="#9c9c9c" stroke-width="1.1" />
<rect x="303.15" y="287.60" width="8.73" height="6.85" fill="#dcdcdc" stroke="#9c9c9c" stroke-width="1.1" />
<rect x="311.88" y="287.60" width="8.73" height="6.85" fill="#dcdcdc" stroke="#9c9c9c" stroke-width="1.1" />
<rect x="320.61" y="287.60" width="8.73" height="6.85" fill="#dcdcdc" stroke="#9c9c9c" stroke-width="1.1" />
<rect x="329.34" y="287.60" width="8.73" height="6.85" fill="#dcdcdc" stroke="#9c9c9c" stroke-width="1.1" />
<rect x="338.07" y="287.60" width="8.73" height="6.85" fill="#dcdcdc" stroke="#9c9c9c" stroke-width="1.1" />
<rect x="346.80" y="287.60" width="8.73" height="6.85" fill="#dcdcdc" stroke="#9c9c9c" stroke-width="1.1" />
<line x1="49.95" y1="280.80" x2="355.53" y2="280.80" stroke="#9c9c9c" stroke-width="1.8" />
<line x1="49.95" y1="287.60" x2="355.53" y2="287.60" stroke="#9c9c9c" stroke-width="1.8" />
<rect x="49.95" y="274.60" width="305.58" height="19.85" fill="none" stroke="#9c9c9c" stroke-width="1.3" />
<rect x="359.75" y="274.60" width="8.67" height="6.20" fill="#1c1c1c" stroke="#9c9c9c" stroke-width="1.1" />
<rect x="368.42" y="274.60" width="8.67" height="6.20" fill="#1c1c1c" stroke="#9c9c9c" stroke-width="1.1" />
<rect x="377.09" y="274.60" width="8.67" height="6.20" fill="#1c1c1c" stroke="#9c9c9c" stroke-width="1.1" />
<rect x="385.76" y="274.60" width="8.67" height="6.20" fill="#1c1c1c" stroke="#9c9c9c" stroke-width="1.1" />
<rect x="394.43" y="274.60" width="8.67" height="6.20" fill="#1c1c1c" stroke="#9c9c9c" stroke-width="1.1" />
<rect x="403.10" y="274.60" width="8.67" height="6.20" fill="#1c1c1c" stroke="#9c9c9c" stroke-width="1.1" />
<rect x="411.77" y="274.60" width="8.67" height="6.20" fill="#1c1c1c" stroke="#9c9c9c" stroke-width="1.1" />
<rect x="420.44" y="274.60" width="8.67" height="6.20" fill="#1c1c1c" stroke="#9c9c9c" stroke-width="1.1" />
<rect x="359.75" y="280.80" width="8.67" height="6.80" fill="#1c1c1c" stroke="#9c9c9c" stroke-width="1.1" />
<rect x="368.42" y="280.80" width="8.67" height="6.80" fill="#1c1c1c" stroke="#9c9c9c" stroke-width="1.1" />
<rect x="377.09" y="280.80" width="8.67" height="6.80" fill="#1c1c1c" stroke="#9c9c9c" stroke-width="1.1" />
<rect x="385.76" y="280.80" width="8.67" height="6.80" fill="#1c1c1c" stroke="#9c9c9c" stroke-width="1.1" />
<rect x="394.43" y="280.80" width="8.67" height="6.80" fill="#1c1c1c" stroke="#9c9c9c" stroke-width="1.1" />
<rect x="403.10" y="280.80" width="8.67" height="6.80" fill="#1c1c1c" stroke="#9c9c9c" stroke-width="1.1" />
<rect x="411.77" y="280.80" width="8.67" height="6.80" fill="#1c1c1c" stroke="#9c9c9c" stroke-width="1.1" />
<rect x="420.44" y="280.80" width="8.67" height="6.80" fill="#1c1c1c" stroke="#9c9c9c" stroke-width="1.1" />
<rect x="359.75" y="287.60" width="8.67" height="6.85" fill="#1c1c1c" stroke="#9c9c9c" stroke-width="1.1" />
<rect x="368.42" y="287.60" width="8.67" height="6.85" fill="#1c1c1c" stroke="#9c9c9c" stroke-width="1.1" />
<rect x="377.09" y="287.60" width="8.67" height="6.85" fill="#1c1c1c" stroke="#9c9c9c" stroke-width="1.1" />
<rect x="385.76" y="287.60" width="8.67" height="6.85" fill="#1c1c1c" stroke="#9c9c9c" stroke-width="1.1" />
<rect x="394.43" y="287.60" width="8.67" height="6.85" fill="#1c1c1c" stroke="#9c9c9c" stroke-width="1.1" />
<rect x="403.10" y="287.60" width="8.67" height="6.85" fill="#1c1c1c" stroke="#9c9c9c" stroke-width="1.1" />
<rect x="411.77" y="287.60" width="8.67" height="6.85" fill="#1c1c1c" stroke="#9c9c9c" stroke-width="1.1" />
<rect x="420.44" y="287.60" width="8.67" height="6.85" fill="#1c1c1c" stroke="#9c9c9c" stroke-width="1.1" />
<line x1="359.75" y1="280.80" x2="429.11" y2="280.80" stroke="#9c9c9c" stroke-width="1.8" />
<line x1="359.75" y1="287.60" x2="429.11" y2="287.60" stroke="#9c9c9c" stroke-width="1.8" />
<rect x="359.75" y="274.60" width="69.36" height="19.85" fill="none" stroke="#9c9c9c" stroke-width="1.3" />
<rect x="433.55" y="274.60" width="8.72" height="6.20" fill="#1c1c1c" stroke="#9c9c9c" stroke-width="1.1" />
<rect x="442.27" y="274.60" width="8.72" height="6.20" fill="#1c1c1c" stroke="#9c9c9c" stroke-width="1.1" />
<rect x="450.99" y="274.60" width="8.72" height="6.20" fill="#1c1c1c" stroke="#9c9c9c" stroke-width="1.1" />
<rect x="459.71" y="274.60" width="8.72" height="6.20" fill="#1c1c1c" stroke="#9c9c9c" stroke-width="1.1" />
<rect x="468.43" y="274.60" width="8.72" height="6.20" fill="#1c1c1c" stroke="#9c9c9c" stroke-width="1.1" />
<rect x="477.15" y="274.60" width="8.72" height="6.20" fill="#1c1c1c" stroke="#9c9c9c" stroke-width="1.1" />
<rect x="485.87" y="274.60" width="8.72" height="6.20" fill="#1c1c1c" stroke="#9c9c9c" stroke-width="1.1" />
<rect x="494.59" y="274.60" width="8.72" height="6.20" fill="#1c1c1c" stroke="#9c9c9c" stroke-width="1.1" />
<rect x="503.31" y="274.60" width="8.72" height="6.20" fill="#1c1c1c" stroke="#9c9c9c" stroke-width="1.1" />
<rect x="512.03" y="274.60" width="8.72" height="6.20" fill="#1c1c1c" stroke="#9c9c9c" stroke-width="1.1" />
<rect x="520.75" y="274.60" width="8.72" height="6.20" fill="#1c1c1c" stroke="#9c9c9c" stroke-width="1.1" />
<rect x="529.47" y="274.60" width="8.72" height="6.20" fill="#1c1c1c" stroke="#9c9c9c" stroke-width="1.1" />
<rect x="538.19" y="274.60" width="8.72" height="6.20" fill="#1c1c1c" stroke="#9c9c9c" stroke-width="1.1" />
<rect x="546.91" y="274.60" width="8.72" height="6.20" fill="#1c1c1c" stroke="#9c9c9c" stroke-width="1.1" />
<rect x="555.63" y="274.60" width="8.72" height="6.20" fill="#1c1c1c" stroke="#9c9c9c" stroke-width="1.1" />
<rect x="564.35" y="274.60" width="8.72" height="6.20" fill="#1c1c1c" stroke="#9c9c9c" stroke-width="1.1" />
<rect x="573.07" y="274.60" width="8.72" height="6.20" fill="#1c1c1c" stroke="#9c9c9c" stroke-width="1.1" />
<rect x="581.79" y="274.60" width="8.72" height="6.20" fill="#1c1c1c" stroke="#9c9c9c" stroke-width="1.1" />
<rect x="590.51" y="274.60" width="8.72" height="6.20" fill="#1c1c1c" stroke="#9c9c9c" stroke-width="1.1" />
<rect x="433.55" y="280.80" width="8.72" height="6.80" fill="#dcdcdc" stroke="#9c9c9c" stroke-width="1.1" />
<rect x="442.27" y="280.80" width="8.72" height="6.80" fill="#dcdcdc" stroke="#9c9c9c" stroke-width="1.1" />
<rect x="450.99" y="280.80" width="8.72" height="6.80" fill="#dcdcdc" stroke="#9c9c9c" stroke-width="1.1" />
<rect x="459.71" y="280.80" width="8.72" height="6.80" fill="#dcdcdc" stroke="#9c9c9c" stroke-width="1.1" />
<rect x="468.43" y="280.80" width="8.72" height="6.80" fill="#dcdcdc" stroke="#9c9c9c" stroke-width="1.1" />
<rect x="477.15" y="280.80" width="8.72" height="6.80" fill="#dcdcdc" stroke="#9c9c9c" stroke-width="1.1" />
<rect x="485.87" y="280.80" width="8.72" height="6.80" fill="#dcdcdc" stroke="#9c9c9c" stroke-width="1.1" />
<rect x="494.59" y="280.80" width="8.72" height="6.80" fill="#dcdcdc" stroke="#9c9c9c" stroke-width="1.1" />
<rect x="503.31" y="280.80" width="8.72" height="6.80" fill="#dcdcdc" stroke="#9c9c9c" stroke-width="1.1" />
<rect x="512.03" y="280.80" width="8.72" height="6.80" fill="#dcdcdc" stroke="#9c9c9c" stroke-width="1.1" />
<rect x="520.75" y="280.80" width="8.72" height="6.80" fill="#dcdcdc" stroke="#9c9c9c" stroke-width="1.1" />
<rect x="529.47" y="280.80" width="8.72" height="6.80" fill="#dcdcdc" stroke="#9c9c9c" stroke-width="1.1" />
<rect x="538.19" y="280.80" width="8.72" height="6.80" fill="#dcdcdc" stroke="#9c9c9c" stroke-width="1.1" />
<rect x="546.91" y="280.80" width="8.72" height="6.80" fill="#dcdcdc" stroke="#9c9c9c" stroke-width="1.1" />
<rect x="555.63" y="280.80" width="8.72" height="6.80" fill="#dcdcdc" stroke="#9c9c9c" stroke-width="1.1" />
<rect x="564.35" y="280.80" width="8.72" height="6.80" fill="#dcdcdc" stroke="#9c9c9c" stroke-width="1.1" />
<rect x="573.07" y="280.80" width="8.72" height="6.80" fill="#dcdcdc" stroke="#9c9c9c" stroke-width="1.1" />
<rect x="581.79" y="280.80" width="8.72" height="6.80" fill="#dcdcdc" stroke="#9c9c9c" stroke-width="1.1" />
<rect x="590.51" y="280.80" width="8.72" height="6.80" fill="#dcdcdc" stroke="#9c9c9c" stroke-width="1.1" />
<rect x="433.55" y="287.60" width="8.72" height="6.85" fill="#1c1c1c" stroke="#9c9c9c" stroke-width="1.1" />
<rect x="442.27" y="287.60" width="8.72" height="6.85" fill="#1c1c1c" stroke="#9c9c9c" stroke-width="1.1" />
<rect x="450.99" y="287.60" width="8.72" height="6.85" fill="#1c1c1c" stroke="#9c9c9c" stroke-width="1.1" />
<rect x="459.71" y="287.60" width="8.72" height="6.85" fill="#1c1c1c" stroke="#9c9c9c" stroke-width="1.1" />
<rect x="468.43" y="287.60" width="8.72" height="6.85" fill="#1c1c1c" stroke="#9c9c9c" stroke-width="1.1" />
<rect x="477.15" y="287.60" width="8.72" height="6.85" fill="#1c1c1c" stroke="#9c9c9c" stroke-width="1.1" />
<rect x="485.87" y="287.60" width="8.72" height="6.85" fill="#1c1c1c" stroke="#9c9c9c" stroke-width="1.1" />
<rect x="494.59" y="287.60" width="8.72" height="6.85" fill="#1c1c1c" stroke="#9c9c9c" stroke-width="1.1" />
<rect x="503.31" y="287.60" width="8.72" height="6.85" fill="#1c1c1c" stroke="#9c9c9c" stroke-width="1.1" />
<rect x="512.03" y="287.60" width="8.72" height="6.85" fill="#1c1c1c" stroke="#9c9c9c" stroke-width="1.1" />
<rect x="520.75" y="287.60" width="8.72" height="6.85" fill="#1c1c1c" stroke="#9c9c9c" stroke-width="1.1" />
<rect x="529.47" y="287.60" width="8.72" height="6.85" fill="#1c1c1c" stroke="#9c9c9c" stroke-width="1.1" />
<rect x="538.19" y="287.60" width="8.72" height="6.85" fill="#1c1c1c" stroke="#9c9c9c" stroke-width="1.1" />
<rect x="546.91" y="287.60" width="8.72" height="6.85" fill="#1c1c1c" stroke="#9c9c9c" stroke-width="1.1" />
<rect x="555.63" y="287.60" width="8.72" height="6.85" fill="#1c1c1c" stroke="#9c9c9c" stroke-width="1.1" />
<rect x="564.35" y="287.60" width="8.72" height="6.85" fill="#1c1c1c" stroke="#9c9c9c" stroke-width="1.1" />
<rect x="573.07" y="287.60" width="8.72" height="6.85" fill="#1c1c1c" stroke="#9c9c9c" stroke-width="1.1" />
<rect x="581.79" y="287.60" width="8.72" height="6.85" fill="#1c1c1c" stroke="#9c9c9c" stroke-width="1.1" />
<rect x="590.51" y="287.60" width="8.72" height="6.85" fill="#1c1c1c" stroke="#9c9c9c" stroke-width="1.1" />
<line x1="433.55" y1="280.80" x2="599.23" y2="280.80" stroke="#9c9c9c" stroke-width="1.8" />
<line x1="433.55" y1="287.60" x2="599.23" y2="287.60" stroke="#9c9c9c" stroke-width="1.8" />
<rect x="433.55" y="274.60" width="165.68" height="19.85" fill="none" stroke="#9c9c9c" stroke-width="1.3" />
<rect x="49.95" y="295.50" width="8.73" height="10.42" fill="#6a80c4" stroke="#9c9c9c" stroke-width="1.1" />
<rect x="58.68" y="295.50" width="8.73" height="10.42" fill="#b7c3e6" stroke="#9c9c9c" stroke-width="1.1" />
<rect x="67.41" y="295.50" width="8.73" height="10.42" fill="#b4c0e5" stroke="#9c9c9c" stroke-width="1.1" />
<rect x="76.14" y="295.50" width="8.73" height="10.42" fill="#b4c0e5" stroke="#9c9c9c" stroke-width="1.1" />
<rect x="84.87" y="295.50" width="8.73" height="10.42" fill="#c5cfed" stroke="#9c9c9c" stroke-width="1.1" />
<rect x="93.61" y="295.50" width="8.73" height="10.42" fill="#e0e6f5" stroke="#9c9c9c" stroke-width="1.1" />
<rect x="102.34" y="295.50" width="8.73" height="10.42" fill="#e8ecf8" stroke="#9c9c9c" stroke-width="1.1" />
<rect x="111.07" y="295.50" width="8.73" height="10.42" fill="#e0e6f5" stroke="#9c9c9c" stroke-width="1.1" />
<rect x="119.80" y="295.50" width="8.73" height="10.42" fill="#ffffff" stroke="#9c9c9c" stroke-width="1.1" />
<rect x="128.53" y="295.50" width="8.73" height="10.42" fill="#ffffff" stroke="#9c9c9c" stroke-width="1.1" />
<rect x="137.26" y="295.50" width="8.73" height="10.42" fill="#ffffff" stroke="#9c9c9c" stroke-width="1.1" />
<rect x="145.99" y="295.50" width="8.73" height="10.42" fill="#ffffff" stroke="#9c9c9c" stroke-width="1.1" />
<rect x="154.72" y="295.50" width="8.73" height="10.42" fill="#ffffff" stroke="#9c9c9c" stroke-width="1.1" />
<rect x="163.45" y="295.50" width="8.73" height="10.42" fill="#ffffff" stroke="#9c9c9c" stroke-width="1.1" />
<rect x="172.18" y="295.50" width="8.73" height="10.42" fill="#ffffff" stroke="#9c9c9c" stroke-width="1.1" />
<rect x="180.92" y="295.50" width="8.73" height="10.42" fill="#ffffff" stroke="#9c9c9c" stroke-width="1.1" />
<rect x="189.65" y="295.50" width="8.73" height="10.42" fill="#ffffff" stroke="#9c9c9c" stroke-width="1.1" />
<rect x="198.38" y="295.50" width="8.73" height="10.42" fill="#ffffff" stroke="#9c9c9c" stroke-width="1.1" />
<rect x="207.11" y="295.50" width="8.73" height="10.42" fill="#ffffff" stroke="#9c9c9c" stroke-width="1.1" />
<rect x="215.84" y="295.50" width="8.73" height="10.42" fill="#ffffff" stroke="#9c9c9c" stroke-width="1.1" />
<rect x="224.57" y="295.50" width="8.73" height="10.42" fill="#ffffff" stroke="#9c9c9c" stroke-width="1.1" />
<rect x="233.30" y="295.50" width="8.73" height="10.42" fill="#ffffff" stroke="#9c9c9c" stroke-width="1.1" />
<rect x="242.03" y="295.50" width="8.73" height="10.42" fill="#ffffff" stroke="#9c9c9c" stroke-width="1.1" />
<rect x="250.76" y="295.50" width="8.73" height="10.42" fill="#ffffff" stroke="#9c9c9c" stroke-width="1.1" />
<rect x="259.49" y="295.50" width="8.73" height="10.42" fill="#ffffff" stroke="#9c9c9c" stroke-width="1.1" />
<rect x="268.23" y="295.50" width="8.73" height="10.42" fill="#ffffff" stroke="#9c9c9c" stroke-width="1.1" />
<rect x="276.96" y="295.50" width="8.73" height="10.42" fill="#ffffff" stroke="#9c9c9c" stroke-width="1.1" />
<rect x="285.69" y="295.50" width="8.73" height="10.42" fill="#ffffff" stroke="#9c9c9c" stroke-width="1.1" />
<rect x="294.42" y="295.50" width="8.73" height="10.42" fill="#ffffff" stroke="#9c9c9c" stroke-width="1.1" />
<rect x="303.15" y="295.50" width="8.73" height="10.42" fill="#ffffff" stroke="#9c9c9c" stroke-width="1.1" />
<rect x="311.88" y="295.50" width="8.73" height="10.42" fill="#ffffff" stroke="#9c9c9c" stroke-width="1.1" />
<rect x="320.61" y="295.50" width="8.73" height="10.42" fill="#ffffff" stroke="#9c9c9c" stroke-width="1.1" />
<rect x="329.34" y="295.50" width="8.73" height="10.42" fill="#ffffff" stroke="#9c9c9c" stroke-width="1.1" />
<rect x="338.07" y="295.50" width="8.73" height="10.42" fill="#ffffff" stroke="#9c9c9c" stroke-width="1.1" />
<rect x="346.80" y="295.50" width="8.73" height="10.42" fill="#ffffff" stroke="#9c9c9c" stroke-width="1.1" />
<rect x="49.95" y="305.92" width="8.73" height="10.42" fill="#6a80c4" stroke="#9c9c9c" stroke-width="1.1" />
<rect x="58.68" y="305.92" width="8.73" height="10.42" fill="#b7c3e6" stroke="#9c9c9c" stroke-width="1.1" />
<rect x="67.41" y="305.92" width="8.73" height="10.42" fill="#b4c0e5" stroke="#9c9c9c" stroke-width="1.1" />
<rect x="76.14" y="305.92" width="8.73" height="10.42" fill="#b0bde3" stroke="#9c9c9c" stroke-width="1.1" />
<rect x="84.87" y="305.92" width="8.73" height="10.42" fill="#7b91cb" stroke="#9c9c9c" stroke-width="1.1" />
<rect x="93.61" y="305.92" width="8.73" height="10.42" fill="#d8dff3" stroke="#9c9c9c" stroke-width="1.1" />
<rect x="102.34" y="305.92" width="8.73" height="10.42" fill="#eef1fa" stroke="#9c9c9c" stroke-width="1.1" />
<rect x="111.07" y="305.92" width="8.73" height="10.42" fill="#dae1f4" stroke="#9c9c9c" stroke-width="1.1" />
<rect x="119.80" y="305.92" width="8.73" height="10.42" fill="#ffffff" stroke="#9c9c9c" stroke-width="1.1" />
<rect x="128.53" y="305.92" width="8.73" height="10.42" fill="#ffffff" stroke="#9c9c9c" stroke-width="1.1" />
<rect x="137.26" y="305.92" width="8.73" height="10.42" fill="#ffffff" stroke="#9c9c9c" stroke-width="1.1" />
<rect x="145.99" y="305.92" width="8.73" height="10.42" fill="#ffffff" stroke="#9c9c9c" stroke-width="1.1" />
<rect x="154.72" y="305.92" width="8.73" height="10.42" fill="#ffffff" stroke="#9c9c9c" stroke-width="1.1" />
<rect x="163.45" y="305.92" width="8.73" height="10.42" fill="#ffffff" stroke="#9c9c9c" stroke-width="1.1" />
<rect x="172.18" y="305.92" width="8.73" height="10.42" fill="#ffffff" stroke="#9c9c9c" stroke-width="1.1" />
<rect x="180.92" y="305.92" width="8.73" height="10.42" fill="#ffffff" stroke="#9c9c9c" stroke-width="1.1" />
<rect x="189.65" y="305.92" width="8.73" height="10.42" fill="#ffffff" stroke="#9c9c9c" stroke-width="1.1" />
<rect x="198.38" y="305.92" width="8.73" height="10.42" fill="#ffffff" stroke="#9c9c9c" stroke-width="1.1" />
<rect x="207.11" y="305.92" width="8.73" height="10.42" fill="#ffffff" stroke="#9c9c9c" stroke-width="1.1" />
<rect x="215.84" y="305.92" width="8.73" height="10.42" fill="#ffffff" stroke="#9c9c9c" stroke-width="1.1" />
<rect x="224.57" y="305.92" width="8.73" height="10.42" fill="#ffffff" stroke="#9c9c9c" stroke-width="1.1" />
<rect x="233.30" y="305.92" width="8.73" height="10.42" fill="#ffffff" stroke="#9c9c9c" stroke-width="1.1" />
<rect x="242.03" y="305.92" width="8.73" height="10.42" fill="#ffffff" stroke="#9c9c9c" stroke-width="1.1" />
<rect x="250.76" y="305.92" width="8.73" height="10.42" fill="#ffffff" stroke="#9c9c9c" stroke-width="1.1" />
<rect x="259.49" y="305.92" width="8.73" height="10.42" fill="#ffffff" stroke="#9c9c9c" stroke-width="1.1" />
<rect x="268.23" y="305.92" width="8.73" height="10.42" fill="#ffffff" stroke="#9c9c9c" stroke-width="1.1" />
<rect x="276.96" y="305.92" width="8.73" height="10.42" fill="#ffffff" stroke="#9c9c9c" stroke-width="1.1" />
<rect x="285.69" y="305.92" width="8.73" height="10.42" fill="#ffffff" stroke="#9c9c9c" stroke-width="1.1" />
<rect x="294.42" y="305.92" width="8.73" height="10.42" fill="#ffffff" stroke="#9c9c9c" stroke-width="1.1" />
<rect x="303.15" y="305.92" width="8.73" height="10.42" fill="#ffffff" stroke="#9c9c9c" stroke-width="1.1" />
<rect x="311.88" y="305.92" width="8.73" height="10.42" fill="#ffffff" stroke="#9c9c9c" stroke-width="1.1" />
<rect x="320.61" y="305.92" width="8.73" height="10.42" fill="#ffffff" stroke="#9c9c9c" stroke-width="1.1" />
<rect x="329.34" y="305.92" width="8.73" height="10.42" fill="#ffffff" stroke="#9c9c9c" stroke-width="1.1" />
<rect x="338.07" y="305.92" width="8.73" height="10.42" fill="#ffffff" stroke="#9c9c9c" stroke-width="1.1" />
<rect x="346.80" y="305.92" width="8.73" height="10.42" fill="#ffffff" stroke="#9c9c9c" stroke-width="1.1" />
<rect x="49.95" y="316.34" width="8.73" height="10.42" fill="#dcdcdc" stroke="#9c9c9c" stroke-width="1.1" />
<rect x="58.68" y="316.34" width="8.73" height="10.42" fill="#dcdcdc" stroke="#9c9c9c" stroke-width="1.1" />
<rect x="67.41" y="316.34" width="8.73" height="10.42" fill="#dcdcdc" stroke="#9c9c9c" stroke-width="1.1" />
<rect x="76.14" y="316.34" width="8.73" height="10.42" fill="#dcdcdc" stroke="#9c9c9c" stroke-width="1.1" />
<rect x="84.87" y="316.34" width="8.73" height="10.42" fill="#dcdcdc" stroke="#9c9c9c" stroke-width="1.1" />
<rect x="93.61" y="316.34" width="8.73" height="10.42" fill="#dcdcdc" stroke="#9c9c9c" stroke-width="1.1" />
<rect x="102.34" y="316.34" width="8.73" height="10.42" fill="#dcdcdc" stroke="#9c9c9c" stroke-width="1.1" />
<rect x="111.07" y="316.34" width="8.73" height="10.42" fill="#dcdcdc" stroke="#9c9c9c" stroke-width="1.1" />
<rect x="119.80" y="316.34" width="8.73" height="10.42" fill="#dcdcdc" stroke="#9c9c9c" stroke-width="1.1" />
<rect x="128.53" y="316.34" width="8.73" height="10.42" fill="#dcdcdc" stroke="#9c9c9c" stroke-width="1.1" />
<rect x="137.26" y="316.34" width="8.73" height="10.42" fill="#dcdcdc" stroke="#9c9c9c" stroke-width="1.1" />
<rect x="145.99" y="316.34" width="8.73" height="10.42" fill="#dcdcdc" stroke="#9c9c9c" stroke-width="1.1" />
<rect x="154.72" y="316.34" width="8.73" height="10.42" fill="#dcdcdc" stroke="#9c9c9c" stroke-width="1.1" />
<rect x="163.45" y="316.34" width="8.73" height="10.42" fill="#dcdcdc" stroke="#9c9c9c" stroke-width="1.1" />
<rect x="172.18" y="316.34" width="8.73" height="10.42" fill="#dcdcdc" stroke="#9c9c9c" stroke-width="1.1" />
<rect x="180.92" y="316.34" width="8.73" height="10.42" fill="#dcdcdc" stroke="#9c9c9c" stroke-width="1.1" />
<rect x="189.65" y="316.34" width="8.73" height="10.42" fill="#dcdcdc" stroke="#9c9c9c" stroke-width="1.1" />
<rect x="198.38" y="316.34" width="8.73" height="10.42" fill="#dcdcdc" stroke="#9c9c9c" stroke-width="1.1" />
<rect x="207.11" y="316.34" width="8.73" height="10.42" fill="#dcdcdc" stroke="#9c9c9c" stroke-width="1.1" />
<rect x="215.84" y="316.34" width="8.73" height="10.42" fill="#dcdcdc" stroke="#9c9c9c" stroke-width="1.1" />
<rect x="224.57" y="316.34" width="8.73" height="10.42" fill="#dcdcdc" stroke="#9c9c9c" stroke-width="1.1" />
<rect x="233.30" y="316.34" width="8.73" height="10.42" fill="#dcdcdc" stroke="#9c9c9c" stroke-width="1.1" />
<rect x="242.03" y="316.34" width="8.73" height="10.42" fill="#dcdcdc" stroke="#9c9c9c" stroke-width="1.1" />
<rect x="250.76" y="316.34" width="8.73" height="10.42" fill="#dcdcdc" stroke="#9c9c9c" stroke-width="1.1" />
<rect x="259.49" y="316.34" width="8.73" height="10.42" fill="#dcdcdc" stroke="#9c9c9c" stroke-width="1.1" />
<rect x="268.23" y="316.34" width="8.73" height="10.42" fill="#dcdcdc" stroke="#9c9c9c" stroke-width="1.1" />
<rect x="276.96" y="316.34" width="8.73" height="10.42" fill="#dcdcdc" stroke="#9c9c9c" stroke-width="1.1" />
<rect x="285.69" y="316.34" width="8.73" height="10.42" fill="#dcdcdc" stroke="#9c9c9c" stroke-width="1.1" />
<rect x="294.42" y="316.34" width="8.73" height="10.42" fill="#dcdcdc" stroke="#9c9c9c" stroke-width="1.1" />
<rect x="303.15" y="316.34" width="8.73" height="10.42" fill="#dcdcdc" stroke="#9c9c9c" stroke-width="1.1" />
<rect x="311.88" y="316.34" width="8.73" height="10.42" fill="#dcdcdc" stroke="#9c9c9c" stroke-width="1.1" />
<rect x="320.61" y="316.34" width="8.73" height="10.42" fill="#dcdcdc" stroke="#9c9c9c" stroke-width="1.1" />
<rect x="329.34" y="316.34" width="8.73" height="10.42" fill="#dcdcdc" stroke="#9c9c9c" stroke-width="1.1" />
<rect x="338.07" y="316.34" width="8.73" height="10.42" fill="#dcdcdc" stroke="#9c9c9c" stroke-width="1.1" />
<rect x="346.80" y="316.34" width="8.73" height="10.42" fill="#dcdcdc" stroke="#9c9c9c" stroke-width="1.1" />
<rect x="49.95" y="295.50" width="305.58" height="31.26" fill="none" stroke="#9c9c9c" stroke-width="1.5" />
<rect x="359.75" y="295.50" width="8.67" height="10.42" fill="#8a9ed5" stroke="#9c9c9c" stroke-width="1.1" />
<rect x="368.42" y="295.50" width="8.67" height="10.42" fill="#a3b2de" stroke="#9c9c9c" stroke-width="1.1" />
<rect x="377.09" y="295.50" width="8.67" height="10.42" fill="#c3cdeb" stroke="#9c9c9c" stroke-width="1.1" />
<rect x="385.76" y="295.50" width="8.67" height="10.42" fill="#ffffff" stroke="#9c9c9c" stroke-width="1.1" />
<rect x="394.43" y="295.50" width="8.67" height="10.42" fill="#ffffff" stroke="#9c9c9c" stroke-width="1.1" />
<rect x="403.10" y="295.50" width="8.67" height="10.42" fill="#ffffff" stroke="#9c9c9c" stroke-width="1.1" />
<rect x="411.77" y="295.50" width="8.67" height="10.42" fill="#ffffff" stroke="#9c9c9c" stroke-width="1.1" />
<rect x="420.44" y="295.50" width="8.67" height="10.42" fill="#ffffff" stroke="#9c9c9c" stroke-width="1.1" />
<rect x="359.75" y="305.92" width="8.67" height="10.42" fill="#8a9ed5" stroke="#9c9c9c" stroke-width="1.1" />
<rect x="368.42" y="305.92" width="8.67" height="10.42" fill="#a6b5df" stroke="#9c9c9c" stroke-width="1.1" />
<rect x="377.09" y="305.92" width="8.67" height="10.42" fill="#c0cbea" stroke="#9c9c9c" stroke-width="1.1" />
<rect x="385.76" y="305.92" width="8.67" height="10.42" fill="#ffffff" stroke="#9c9c9c" stroke-width="1.1" />
<rect x="394.43" y="305.92" width="8.67" height="10.42" fill="#ffffff" stroke="#9c9c9c" stroke-width="1.1" />
<rect x="403.10" y="305.92" width="8.67" height="10.42" fill="#ffffff" stroke="#9c9c9c" stroke-width="1.1" />
<rect x="411.77" y="305.92" width="8.67" height="10.42" fill="#ffffff" stroke="#9c9c9c" stroke-width="1.1" />
<rect x="420.44" y="305.92" width="8.67" height="10.42" fill="#ffffff" stroke="#9c9c9c" stroke-width="1.1" />
<rect x="359.75" y="316.34" width="8.67" height="10.42" fill="#8fa2d6" stroke="#9c9c9c" stroke-width="1.1" />
<rect x="368.42" y="316.34" width="8.67" height="10.42" fill="#a3b2de" stroke="#9c9c9c" stroke-width="1.1" />
<rect x="377.09" y="316.34" width="8.67" height="10.42" fill="#c3cdeb" stroke="#9c9c9c" stroke-width="1.1" />
<rect x="385.76" y="316.34" width="8.67" height="10.42" fill="#ffffff" stroke="#9c9c9c" stroke-width="1.1" />
<rect x="394.43" y="316.34" width="8.67" height="10.42" fill="#ffffff" stroke="#9c9c9c" stroke-width="1.1" />
<rect x="403.10" y="316.34" width="8.67" height="10.42" fill="#ffffff" stroke="#9c9c9c" stroke-width="1.1" />
<rect x="411.77" y="316.34" width="8.67" height="10.42" fill="#ffffff" stroke="#9c9c9c" stroke-width="1.1" />
<rect x="420.44" y="316.34" width="8.67" height="10.42" fill="#ffffff" stroke="#9c9c9c" stroke-width="1.1" />
<rect x="359.75" y="295.50" width="69.36" height="31.26" fill="none" stroke="#9c9c9c" stroke-width="1.5" />
<rect x="433.55" y="295.50" width="8.72" height="10.42" fill="#4a62b8" stroke="#9c9c9c" stroke-width="1.1" />
<rect x="442.27" y="295.50" width="8.72" height="10.42" fill="#94a6d8" stroke="#9c9c9c" stroke-width="1.1" />
<rect x="450.99" y="295.50" width="8.72" height="10.42" fill="#a6b5df" stroke="#9c9c9c" stroke-width="1.1" />
<rect x="459.71" y="295.50" width="8.72" height="10.42" fill="#bbc6e8" stroke="#9c9c9c" stroke-width="1.1" />
<rect x="468.43" y="295.50" width="8.72" height="10.42" fill="#d7def2" stroke="#9c9c9c" stroke-width="1.1" />
<rect x="477.15" y="295.50" width="8.72" height="10.42" fill="#ffffff" stroke="#9c9c9c" stroke-width="1.1" />
<rect x="485.87" y="295.50" width="8.72" height="10.42" fill="#ffffff" stroke="#9c9c9c" stroke-width="1.1" />
<rect x="494.59" y="295.50" width="8.72" height="10.42" fill="#ffffff" stroke="#9c9c9c" stroke-width="1.1" />
<rect x="503.31" y="295.50" width="8.72" height="10.42" fill="#ffffff" stroke="#9c9c9c" stroke-width="1.1" />
<rect x="512.03" y="295.50" width="8.72" height="10.42" fill="#ffffff" stroke="#9c9c9c" stroke-width="1.1" />
<rect x="520.75" y="295.50" width="8.72" height="10.42" fill="#ffffff" stroke="#9c9c9c" stroke-width="1.1" />
<rect x="529.47" y="295.50" width="8.72" height="10.42" fill="#ffffff" stroke="#9c9c9c" stroke-width="1.1" />
<rect x="538.19" y="295.50" width="8.72" height="10.42" fill="#ffffff" stroke="#9c9c9c" stroke-width="1.1" />
<rect x="546.91" y="295.50" width="8.72" height="10.42" fill="#ffffff" stroke="#9c9c9c" stroke-width="1.1" />
<rect x="555.63" y="295.50" width="8.72" height="10.42" fill="#ffffff" stroke="#9c9c9c" stroke-width="1.1" />
<rect x="564.35" y="295.50" width="8.72" height="10.42" fill="#ffffff" stroke="#9c9c9c" stroke-width="1.1" />
<rect x="573.07" y="295.50" width="8.72" height="10.42" fill="#ffffff" stroke="#9c9c9c" stroke-width="1.1" />
<rect x="581.79" y="295.50" width="8.72" height="10.42" fill="#ffffff" stroke="#9c9c9c" stroke-width="1.1" />
<rect x="590.51" y="295.50" width="8.72" height="10.42" fill="#ffffff" stroke="#9c9c9c" stroke-width="1.1" />
<rect x="433.55" y="305.92" width="8.72" height="10.42" fill="#dcdcdc" stroke="#9c9c9c" stroke-width="1.1" />
<rect x="442.27" y="305.92" width="8.72" height="10.42" fill="#dcdcdc" stroke="#9c9c9c" stroke-width="1.1" />
<rect x="450.99" y="305.92" width="8.72" height="10.42" fill="#dcdcdc" stroke="#9c9c9c" stroke-width="1.1" />
<rect x="459.71" y="305.92" width="8.72" height="10.42" fill="#dcdcdc" stroke="#9c9c9c" stroke-width="1.1" />
<rect x="468.43" y="305.92" width="8.72" height="10.42" fill="#dcdcdc" stroke="#9c9c9c" stroke-width="1.1" />
<rect x="477.15" y="305.92" width="8.72" height="10.42" fill="#dcdcdc" stroke="#9c9c9c" stroke-width="1.1" />
<rect x="485.87" y="305.92" width="8.72" height="10.42" fill="#dcdcdc" stroke="#9c9c9c" stroke-width="1.1" />
<rect x="494.59" y="305.92" width="8.72" height="10.42" fill="#dcdcdc" stroke="#9c9c9c" stroke-width="1.1" />
<rect x="503.31" y="305.92" width="8.72" height="10.42" fill="#dcdcdc" stroke="#9c9c9c" stroke-width="1.1" />
<rect x="512.03" y="305.92" width="8.72" height="10.42" fill="#dcdcdc" stroke="#9c9c9c" stroke-width="1.1" />
<rect x="520.75" y="305.92" width="8.72" height="10.42" fill="#dcdcdc" stroke="#9c9c9c" stroke-width="1.1" />
<rect x="529.47" y="305.92" width="8.72" height="10.42" fill="#dcdcdc" stroke="#9c9c9c" stroke-width="1.1" />
<rect x="538.19" y="305.92" width="8.72" height="10.42" fill="#dcdcdc" stroke="#9c9c9c" stroke-width="1.1" />
<rect x="546.91" y="305.92" width="8.72" height="10.42" fill="#dcdcdc" stroke="#9c9c9c" stroke-width="1.1" />
<rect x="555.63" y="305.92" width="8.72" height="10.42" fill="#dcdcdc" stroke="#9c9c9c" stroke-width="1.1" />
<rect x="564.35" y="305.92" width="8.72" height="10.42" fill="#dcdcdc" stroke="#9c9c9c" stroke-width="1.1" />
<rect x="573.07" y="305.92" width="8.72" height="10.42" fill="#dcdcdc" stroke="#9c9c9c" stroke-width="1.1" />
<rect x="581.79" y="305.92" width="8.72" height="10.42" fill="#dcdcdc" stroke="#9c9c9c" stroke-width="1.1" />
<rect x="590.51" y="305.92" width="8.72" height="10.42" fill="#dcdcdc" stroke="#9c9c9c" stroke-width="1.1" />
<rect x="433.55" y="316.34" width="8.72" height="10.42" fill="#4a62b8" stroke="#9c9c9c" stroke-width="1.1" />
<rect x="442.27" y="316.34" width="8.72" height="10.42" fill="#94a6d8" stroke="#9c9c9c" stroke-width="1.1" />
<rect x="450.99" y="316.34" width="8.72" height="10.42" fill="#a6b5df" stroke="#9c9c9c" stroke-width="1.1" />
<rect x="459.71" y="316.34" width="8.72" height="10.42" fill="#bbc6e8" stroke="#9c9c9c" stroke-width="1.1" />
<rect x="468.43" y="316.34" width="8.72" height="10.42" fill="#d7def2" stroke="#9c9c9c" stroke-width="1.1" />
<rect x="477.15" y="316.34" width="8.72" height="10.42" fill="#ffffff" stroke="#9c9c9c" stroke-width="1.1" />
<rect x="485.87" y="316.34" width="8.72" height="10.42" fill="#ffffff" stroke="#9c9c9c" stroke-width="1.1" />
<rect x="494.59" y="316.34" width="8.72" height="10.42" fill="#ffffff" stroke="#9c9c9c" stroke-width="1.1" />
<rect x="503.31" y="316.34" width="8.72" height="10.42" fill="#ffffff" stroke="#9c9c9c" stroke-width="1.1" />
<rect x="512.03" y="316.34" width="8.72" height="10.42" fill="#ffffff" stroke="#9c9c9c" stroke-width="1.1" />
<rect x="520.75" y="316.34" width="8.72" height="10.42" fill="#ffffff" stroke="#9c9c9c" stroke-width="1.1" />
<rect x="529.47" y="316.34" width="8.72" height="10.42" fill="#ffffff" stroke="#9c9c9c" stroke-width="1.1" />
<rect x="538.19" y="316.34" width="8.72" height="10.42" fill="#ffffff" stroke="#9c9c9c" stroke-width="1.1" />
<rect x="546.91" y="316.34" width="8.72" height="10.42" fill="#ffffff" stroke="#9c9c9c" stroke-width="1.1" />
<rect x="555.63" y="316.34" width="8.72" height="10.42" fill="#ffffff" stroke="#9c9c9c" stroke-width="1.1" />
<rect x="564.35" y="316.34" width="8.72" height="10.42" fill="#ffffff" stroke="#9c9c9c" stroke-width="1.1" />
<rect x="573.07" y="316.34" width="8.72" height="10.42" fill="#ffffff" stroke="#9c9c9c" stroke-width="1.1" />
<rect x="581.79" y="316.34" width="8.72" height="10.42" fill="#ffffff" stroke="#9c9c9c" stroke-width="1.1" />
<rect x="590.51" y="316.34" width="8.72" height="10.42" fill="#ffffff" stroke="#9c9c9c" stroke-width="1.1" />
<rect x="433.55" y="295.50" width="165.68" height="31.26" fill="none" stroke="#9c9c9c" stroke-width="1.5" />
<rect x="42.55" y="295.50" width="6.20" height="10.42" fill="#ee3a3a" stroke="#9c9c9c" stroke-width="1.1" />
<rect x="42.55" y="305.92" width="6.20" height="10.42" fill="#ee3a3a" stroke="#9c9c9c" stroke-width="1.1" />
<rect x="42.55" y="316.34" width="6.20" height="10.42" fill="#ee3a3a" stroke="#9c9c9c" stroke-width="1.1" />
<rect x="42.55" y="295.50" width="6.20" height="31.26" fill="none" stroke="#9c9c9c" stroke-width="1.5" />
<text x="40.40" y="303.71" font-size="8.4" text-anchor="end" font-weight="bold" fill="#111" >QIAGEN</text>
<text x="40.40" y="314.13" font-size="8.4" text-anchor="end" font-weight="bold" fill="#111" >TSO Lab2</text>
<text x="40.40" y="324.55" font-size="8.4" text-anchor="end" font-weight="bold" fill="#111" >TSO Lab1</text>
<rect x="49.95" y="330.60" width="8.73" height="10.42" fill="#ffffff" stroke="#9c9c9c" stroke-width="1.1" />
<rect x="58.68" y="330.60" width="8.73" height="10.42" fill="#ffffff" stroke="#9c9c9c" stroke-width="1.1" />
<rect x="67.41" y="330.60" width="8.73" height="10.42" fill="#ffffff" stroke="#9c9c9c" stroke-width="1.1" />
<rect x="76.14" y="330.60" width="8.73" height="10.42" fill="#ffffff" stroke="#9c9c9c" stroke-width="1.1" />
<rect x="84.87" y="330.60" width="8.73" height="10.42" fill="#ffffff" stroke="#9c9c9c" stroke-width="1.1" />
<rect x="93.61" y="330.60" width="8.73" height="10.42" fill="#ffffff" stroke="#9c9c9c" stroke-width="1.1" />
<rect x="102.34" y="330.60" width="8.73" height="10.42" fill="#ffffff" stroke="#9c9c9c" stroke-width="1.1" />
<rect x="111.07" y="330.60" width="8.73" height="10.42" fill="#ffffff" stroke="#9c9c9c" stroke-width="1.1" />
<rect x="119.80" y="330.60" width="8.73" height="10.42" fill="#4f66b5" stroke="#9c9c9c" stroke-width="1.1" />
<rect x="128.53" y="330.60" width="8.73" height="10.42" fill="#7a8fcb" stroke="#9c9c9c" stroke-width="1.1" />
<rect x="137.26" y="330.60" width="8.73" height="10.42" fill="#9aaadb" stroke="#9c9c9c" stroke-width="1.1" />
<rect x="145.99" y="330.60" width="8.73" height="10.42" fill="#a3b2de" stroke="#9c9c9c" stroke-width="1.1" />
<rect x="154.72" y="330.60" width="8.73" height="10.42" fill="#b9c4e7" stroke="#9c9c9c" stroke-width="1.1" />
<rect x="163.45" y="330.60" width="8.73" height="10.42" fill="#c1cbea" stroke="#9c9c9c" stroke-width="1.1" />
<rect x="172.18" y="330.60" width="8.73" height="10.42" fill="#cdd5ef" stroke="#9c9c9c" stroke-width="1.1" />
<rect x="180.92" y="330.60" width="8.73" height="10.42" fill="#d4dcf2" stroke="#9c9c9c" stroke-width="1.1" />
<rect x="189.65" y="330.60" width="8.73" height="10.42" fill="#e4e9f7" stroke="#9c9c9c" stroke-width="1.1" />
<rect x="198.38" y="330.60" width="8.73" height="10.42" fill="#ffffff" stroke="#9c9c9c" stroke-width="1.1" />
<rect x="207.11" y="330.60" width="8.73" height="10.42" fill="#ffffff" stroke="#9c9c9c" stroke-width="1.1" />
<rect x="215.84" y="330.60" width="8.73" height="10.42" fill="#ffffff" stroke="#9c9c9c" stroke-width="1.1" />
<rect x="224.57" y="330.60" width="8.73" height="10.42" fill="#ffffff" stroke="#9c9c9c" stroke-width="1.1" />
<rect x="233.30" y="330.60" width="8.73" height="10.42" fill="#ffffff" stroke="#9c9c9c" stroke-width="1.1" />
<rect x="242.03" y="330.60" width="8.73" height="10.42" fill="#ffffff" stroke="#9c9c9c" stroke-width="1.1" />
<rect x="250.76" y="330.60" width="8.73" height="10.42" fill="#ffffff" stroke="#9c9c9c" stroke-width="1.1" />
<rect x="259.49" y="330.60" width="8.73" height="10.42" fill="#ffffff" stroke="#9c9c9c" stroke-width="1.1" />
<rect x="268.23" y="330.60" width="8.73" height="10.42" fill="#ffffff" stroke="#9c9c9c" stroke-width="1.1" />
<rect x="276.96" y="330.60" width="8.73" height="10.42" fill="#ffffff" stroke="#9c9c9c" stroke-width="1.1" />
<rect x="285.69" y="330.60" width="8.73" height="10.42" fill="#ffffff" stroke="#9c9c9c" stroke-width="1.1" />
<rect x="294.42" y="330.60" width="8.73" height="10.42" fill="#ffffff" stroke="#9c9c9c" stroke-width="1.1" />
<rect x="303.15" y="330.60" width="8.73" height="10.42" fill="#ffffff" stroke="#9c9c9c" stroke-width="1.1" />
<rect x="311.88" y="330.60" width="8.73" height="10.42" fill="#ffffff" stroke="#9c9c9c" stroke-width="1.1" />
<rect x="320.61" y="330.60" width="8.73" height="10.42" fill="#ffffff" stroke="#9c9c9c" stroke-width="1.1" />
<rect x="329.34" y="330.60" width="8.73" height="10.42" fill="#ffffff" stroke="#9c9c9c" stroke-width="1.1" />
<rect x="338.07" y="330.60" width="8.73" height="10.42" fill="#ffffff" stroke="#9c9c9c" stroke-width="1.1" />
<rect x="346.80" y="330.60" width="8.73" height="10.42" fill="#ffffff" stroke="#9c9c9c" stroke-width="1.1" />
<rect x="49.95" y="341.02" width="8.73" height="10.42" fill="#ffffff" stroke="#9c9c9c" stroke-width="1.1" />
<rect x="58.68" y="341.02" width="8.73" height="10.42" fill="#ffffff" stroke="#9c9c9c" stroke-width="1.1" />
<rect x="67.41" y="341.02" width="8.73" height="10.42" fill="#ffffff" stroke="#9c9c9c" stroke-width="1.1" />
<rect x="76.14" y="341.02" width="8.73" height="10.42" fill="#ffffff" stroke="#9c9c9c" stroke-width="1.1" />
<rect x="84.87" y="341.02" width="8.73" height="10.42" fill="#ffffff" stroke="#9c9c9c" stroke-width="1.1" />
<rect x="93.61" y="341.02" width="8.73" height="10.42" fill="#ffffff" stroke="#9c9c9c" stroke-width="1.1" />
<rect x="102.34" y="341.02" width="8.73" height="10.42" fill="#ffffff" stroke="#9c9c9c" stroke-width="1.1" />
<rect x="111.07" y="341.02" width="8.73" height="10.42" fill="#ffffff" stroke="#9c9c9c" stroke-width="1.1" />
<rect x="119.80" y="341.02" width="8.73" height="10.42" fill="#4f66b5" stroke="#9c9c9c" stroke-width="1.1" />
<rect x="128.53" y="341.02" width="8.73" height="10.42" fill="#8094cd" stroke="#9c9c9c" stroke-width="1.1" />
<rect x="137.26" y="341.02" width="8.73" height="10.42" fill="#98a9da" stroke="#9c9c9c" stroke-width="1.1" />
<rect x="145.99" y="341.02" width="8.73" height="10.42" fill="#9cacdb" stroke="#9c9c9c" stroke-width="1.1" />
<rect x="154.72" y="341.02" width="8.73" height="10.42" fill="#aab8e1" stroke="#9c9c9c" stroke-width="1.1" />
<rect x="163.45" y="341.02" width="8.73" height="10.42" fill="#d5dcf2" stroke="#9c9c9c" stroke-width="1.1" />
<rect x="172.18" y="341.02" width="8.73" height="10.42" fill="#c7d0ed" stroke="#9c9c9c" stroke-width="1.1" />
<rect x="180.92" y="341.02" width="8.73" height="10.42" fill="#dce2f4" stroke="#9c9c9c" stroke-width="1.1" />
<rect x="189.65" y="341.02" width="8.73" height="10.42" fill="#dce3f4" stroke="#9c9c9c" stroke-width="1.1" />
<rect x="198.38" y="341.02" width="8.73" height="10.42" fill="#ffffff" stroke="#9c9c9c" stroke-width="1.1" />
<rect x="207.11" y="341.02" width="8.73" height="10.42" fill="#ffffff" stroke="#9c9c9c" stroke-width="1.1" />
<rect x="215.84" y="341.02" width="8.73" height="10.42" fill="#ffffff" stroke="#9c9c9c" stroke-width="1.1" />
<rect x="224.57" y="341.02" width="8.73" height="10.42" fill="#ffffff" stroke="#9c9c9c" stroke-width="1.1" />
<rect x="233.30" y="341.02" width="8.73" height="10.42" fill="#ffffff" stroke="#9c9c9c" stroke-width="1.1" />
<rect x="242.03" y="341.02" width="8.73" height="10.42" fill="#ffffff" stroke="#9c9c9c" stroke-width="1.1" />
<rect x="250.76" y="341.02" width="8.73" height="10.42" fill="#ffffff" stroke="#9c9c9c" stroke-width="1.1" />
<rect x="259.49" y="341.02" width="8.73" height="10.42" fill="#ffffff" stroke="#9c9c9c" stroke-width="1.1" />
<rect x="268.23" y="341.02" width="8.73" height="10.42" fill="#ffffff" stroke="#9c9c9c" stroke-width="1.1" />
<rect x="276.96" y="341.02" width="8.73" height="10.42" fill="#ffffff" stroke="#9c9c9c" stroke-width="1.1" />
<rect x="285.69" y="341.02" width="8.73" height="10.42" fill="#ffffff" stroke="#9c9c9c" stroke-width="1.1" />
<rect x="294.42" y="341.02" width="8.73" height="10.42" fill="#ffffff" stroke="#9c9c9c" stroke-width="1.1" />
<rect x="303.15" y="341.02" width="8.73" height="10.42" fill="#ffffff" stroke="#9c9c9c" stroke-width="1.1" />
<rect x="311.88" y="341.02" width="8.73" height="10.42" fill="#ffffff" stroke="#9c9c9c" stroke-width="1.1" />
<rect x="320.61" y="341.02" width="8.73" height="10.42" fill="#ffffff" stroke="#9c9c9c" stroke-width="1.1" />
<rect x="329.34" y="341.02" width="8.73" height="10.42" fill="#ffffff" stroke="#9c9c9c" stroke-width="1.1" />
<rect x="338.07" y="341.02" width="8.73" height="10.42" fill="#ffffff" stroke="#9c9c9c" stroke-width="1.1" />
<rect x="346.80" y="341.02" width="8.73" height="10.42" fill="#ffffff" stroke="#9c9c9c" stroke-width="1.1" />
<rect x="49.95" y="351.44" width="8.73" height="10.42" fill="#dcdcdc" stroke="#9c9c9c" stroke-width="1.1" />
<rect x="58.68" y="351.44" width="8.73" height="10.42" fill="#dcdcdc" stroke="#9c9c9c" stroke-width="1.1" />
<rect x="67.41" y="351.44" width="8.73" height="10.42" fill="#dcdcdc" stroke="#9c9c9c" stroke-width="1.1" />
<rect x="76.14" y="351.44" width="8.73" height="10.42" fill="#dcdcdc" stroke="#9c9c9c" stroke-width="1.1" />
<rect x="84.87" y="351.44" width="8.73" height="10.42" fill="#dcdcdc" stroke="#9c9c9c" stroke-width="1.1" />
<rect x="93.61" y="351.44" width="8.73" height="10.42" fill="#dcdcdc" stroke="#9c9c9c" stroke-width="1.1" />
<rect x="102.34" y="351.44" width="8.73" height="10.42" fill="#dcdcdc" stroke="#9c9c9c" stroke-width="1.1" />
<rect x="111.07" y="351.44" width="8.73" height="10.42" fill="#dcdcdc" stroke="#9c9c9c" stroke-width="1.1" />
<rect x="119.80" y="351.44" width="8.73" height="10.42" fill="#dcdcdc" stroke="#9c9c9c" stroke-width="1.1" />
<rect x="128.53" y="351.44" width="8.73" height="10.42" fill="#dcdcdc" stroke="#9c9c9c" stroke-width="1.1" />
<rect x="137.26" y="351.44" width="8.73" height="10.42" fill="#dcdcdc" stroke="#9c9c9c" stroke-width="1.1" />
<rect x="145.99" y="351.44" width="8.73" height="10.42" fill="#dcdcdc" stroke="#9c9c9c" stroke-width="1.1" />
<rect x="154.72" y="351.44" width="8.73" height="10.42" fill="#dcdcdc" stroke="#9c9c9c" stroke-width="1.1" />
<rect x="163.45" y="351.44" width="8.73" height="10.42" fill="#dcdcdc" stroke="#9c9c9c" stroke-width="1.1" />
<rect x="172.18" y="351.44" width="8.73" height="10.42" fill="#dcdcdc" stroke="#9c9c9c" stroke-width="1.1" />
<rect x="180.92" y="351.44" width="8.73" height="10.42" fill="#dcdcdc" stroke="#9c9c9c" stroke-width="1.1" />
<rect x="189.65" y="351.44" width="8.73" height="10.42" fill="#dcdcdc" stroke="#9c9c9c" stroke-width="1.1" />
<rect x="198.38" y="351.44" width="8.73" height="10.42" fill="#dcdcdc" stroke="#9c9c9c" stroke-width="1.1" />
<rect x="207.11" y="351.44" width="8.73" height="10.42" fill="#dcdcdc" stroke="#9c9c9c" stroke-width="1.1" />
<rect x="215.84" y="351.44" width="8.73" height="10.42" fill="#dcdcdc" stroke="#9c9c9c" stroke-width="1.1" />
<rect x="224.57" y="351.44" width="8.73" height="10.42" fill="#dcdcdc" stroke="#9c9c9c" stroke-width="1.1" />
<rect x="233.30" y="351.44" width="8.73" height="10.42" fill="#dcdcdc" stroke="#9c9c9c" stroke-width="1.1" />
<rect x="242.03" y="351.44" width="8.73" height="10.42" fill="#dcdcdc" stroke="#9c9c9c" stroke-width="1.1" />
<rect x="250.76" y="351.44" width="8.73" height="10.42" fill="#dcdcdc" stroke="#9c9c9c" stroke-width="1.1" />
<rect x="259.49" y="351.44" width="8.73" height="10.42" fill="#dcdcdc" stroke="#9c9c9c" stroke-width="1.1" />
<rect x="268.23" y="351.44" width="8.73" height="10.42" fill="#dcdcdc" stroke="#9c9c9c" stroke-width="1.1" />
<rect x="276.96" y="351.44" width="8.73" height="10.42" fill="#dcdcdc" stroke="#9c9c9c" stroke-width="1.1" />
<rect x="285.69" y="351.44" width="8.73" height="10.42" fill="#dcdcdc" stroke="#9c9c9c" stroke-width="1.1" />
<rect x="294.42" y="351.44" width="8.73" height="10.42" fill="#dcdcdc" stroke="#9c9c9c" stroke-width="1.1" />
<rect x="303.15" y="351.44" width="8.73" height="10.42" fill="#dcdcdc" stroke="#9c9c9c" stroke-width="1.1" />
<rect x="311.88" y="351.44" width="8.73" height="10.42" fill="#dcdcdc" stroke="#9c9c9c" stroke-width="1.1" />
<rect x="320.61" y="351.44" width="8.73" height="10.42" fill="#dcdcdc" stroke="#9c9c9c" stroke-width="1.1" />
<rect x="329.34" y="351.44" width="8.73" height="10.42" fill="#dcdcdc" stroke="#9c9c9c" stroke-width="1.1" />
<rect x="338.07" y="351.44" width="8.73" height="10.42" fill="#dcdcdc" stroke="#9c9c9c" stroke-width="1.1" />
<rect x="346.80" y="351.44" width="8.73" height="10.42" fill="#dcdcdc" stroke="#9c9c9c" stroke-width="1.1" />
<rect x="49.95" y="330.60" width="305.58" height="31.26" fill="none" stroke="#9c9c9c" stroke-width="1.5" />
<rect x="359.75" y="330.60" width="8.67" height="10.42" fill="#ffffff" stroke="#9c9c9c" stroke-width="1.1" />
<rect x="368.42" y="330.60" width="8.67" height="10.42" fill="#ffffff" stroke="#9c9c9c" stroke-width="1.1" />
<rect x="377.09" y="330.60" width="8.67" height="10.42" fill="#ffffff" stroke="#9c9c9c" stroke-width="1.1" />
<rect x="385.76" y="330.60" width="8.67" height="10.42" fill="#7489c8" stroke="#9c9c9c" stroke-width="1.1" />
<rect x="394.43" y="330.60" width="8.67" height="10.42" fill="#7489c8" stroke="#9c9c9c" stroke-width="1.1" />
<rect x="403.10" y="330.60" width="8.67" height="10.42" fill="#a0b0dc" stroke="#9c9c9c" stroke-width="1.1" />
<rect x="411.77" y="330.60" width="8.67" height="10.42" fill="#aebbe2" stroke="#9c9c9c" stroke-width="1.1" />
<rect x="420.44" y="330.60" width="8.67" height="10.42" fill="#b1bee3" stroke="#9c9c9c" stroke-width="1.1" />
<rect x="359.75" y="341.02" width="8.67" height="10.42" fill="#ffffff" stroke="#9c9c9c" stroke-width="1.1" />
<rect x="368.42" y="341.02" width="8.67" height="10.42" fill="#ffffff" stroke="#9c9c9c" stroke-width="1.1" />
<rect x="377.09" y="341.02" width="8.67" height="10.42" fill="#ffffff" stroke="#9c9c9c" stroke-width="1.1" />
<rect x="385.76" y="341.02" width="8.67" height="10.42" fill="#7489c8" stroke="#9c9c9c" stroke-width="1.1" />
<rect x="394.43" y="341.02" width="8.67" height="10.42" fill="#6a80c4" stroke="#9c9c9c" stroke-width="1.1" />
<rect x="403.10" y="341.02" width="8.67" height="10.42" fill="#a0b0dc" stroke="#9c9c9c" stroke-width="1.1" />
<rect x="411.77" y="341.02" width="8.67" height="10.42" fill="#b1bee3" stroke="#9c9c9c" stroke-width="1.1" />
<rect x="420.44" y="341.02" width="8.67" height="10.42" fill="#bcc7e8" stroke="#9c9c9c" stroke-width="1.1" />
<rect x="359.75" y="351.44" width="8.67" height="10.42" fill="#ffffff" stroke="#9c9c9c" stroke-width="1.1" />
<rect x="368.42" y="351.44" width="8.67" height="10.42" fill="#ffffff" stroke="#9c9c9c" stroke-width="1.1" />
<rect x="377.09" y="351.44" width="8.67" height="10.42" fill="#ffffff" stroke="#9c9c9c" stroke-width="1.1" />
<rect x="385.76" y="351.44" width="8.67" height="10.42" fill="#8fa2d6" stroke="#9c9c9c" stroke-width="1.1" />
<rect x="394.43" y="351.44" width="8.67" height="10.42" fill="#6a80c4" stroke="#9c9c9c" stroke-width="1.1" />
<rect x="403.10" y="351.44" width="8.67" height="10.42" fill="#9aaadb" stroke="#9c9c9c" stroke-width="1.1" />
<rect x="411.77" y="351.44" width="8.67" height="10.42" fill="#b1bee3" stroke="#9c9c9c" stroke-width="1.1" />
<rect x="420.44" y="351.44" width="8.67" height="10.42" fill="#c0cbea" stroke="#9c9c9c" stroke-width="1.1" />
<rect x="359.75" y="330.60" width="69.36" height="31.26" fill="none" stroke="#9c9c9c" stroke-width="1.5" />
<rect x="433.55" y="330.60" width="8.72" height="10.42" fill="#ffffff" stroke="#9c9c9c" stroke-width="1.1" />
<rect x="442.27" y="330.60" width="8.72" height="10.42" fill="#ffffff" stroke="#9c9c9c" stroke-width="1.1" />
<rect x="450.99" y="330.60" width="8.72" height="10.42" fill="#ffffff" stroke="#9c9c9c" stroke-width="1.1" />
<rect x="459.71" y="330.60" width="8.72" height="10.42" fill="#ffffff" stroke="#9c9c9c" stroke-width="1.1" />
<rect x="468.43" y="330.60" width="8.72" height="10.42" fill="#ffffff" stroke="#9c9c9c" stroke-width="1.1" />
<rect x="477.15" y="330.60" width="8.72" height="10.42" fill="#8196ce" stroke="#9c9c9c" stroke-width="1.1" />
<rect x="485.87" y="330.60" width="8.72" height="10.42" fill="#a9b7e0" stroke="#9c9c9c" stroke-width="1.1" />
<rect x="494.59" y="330.60" width="8.72" height="10.42" fill="#b8c3e7" stroke="#9c9c9c" stroke-width="1.1" />
<rect x="503.31" y="330.60" width="8.72" height="10.42" fill="#d3dbf1" stroke="#9c9c9c" stroke-width="1.1" />
<rect x="512.03" y="330.60" width="8.72" height="10.42" fill="#dce3f5" stroke="#9c9c9c" stroke-width="1.1" />
<rect x="520.75" y="330.60" width="8.72" height="10.42" fill="#e0e6f5" stroke="#9c9c9c" stroke-width="1.1" />
<rect x="529.47" y="330.60" width="8.72" height="10.42" fill="#ffffff" stroke="#9c9c9c" stroke-width="1.1" />
<rect x="538.19" y="330.60" width="8.72" height="10.42" fill="#ffffff" stroke="#9c9c9c" stroke-width="1.1" />
<rect x="546.91" y="330.60" width="8.72" height="10.42" fill="#ffffff" stroke="#9c9c9c" stroke-width="1.1" />
<rect x="555.63" y="330.60" width="8.72" height="10.42" fill="#ffffff" stroke="#9c9c9c" stroke-width="1.1" />
<rect x="564.35" y="330.60" width="8.72" height="10.42" fill="#ffffff" stroke="#9c9c9c" stroke-width="1.1" />
<rect x="573.07" y="330.60" width="8.72" height="10.42" fill="#ffffff" stroke="#9c9c9c" stroke-width="1.1" />
<rect x="581.79" y="330.60" width="8.72" height="10.42" fill="#ffffff" stroke="#9c9c9c" stroke-width="1.1" />
<rect x="590.51" y="330.60" width="8.72" height="10.42" fill="#ffffff" stroke="#9c9c9c" stroke-width="1.1" />
<rect x="433.55" y="341.02" width="8.72" height="10.42" fill="#dcdcdc" stroke="#9c9c9c" stroke-width="1.1" />
<rect x="442.27" y="341.02" width="8.72" height="10.42" fill="#dcdcdc" stroke="#9c9c9c" stroke-width="1.1" />
<rect x="450.99" y="341.02" width="8.72" height="10.42" fill="#dcdcdc" stroke="#9c9c9c" stroke-width="1.1" />
<rect x="459.71" y="341.02" width="8.72" height="10.42" fill="#dcdcdc" stroke="#9c9c9c" stroke-width="1.1" />
<rect x="468.43" y="341.02" width="8.72" height="10.42" fill="#dcdcdc" stroke="#9c9c9c" stroke-width="1.1" />
<rect x="477.15" y="341.02" width="8.72" height="10.42" fill="#dcdcdc" stroke="#9c9c9c" stroke-width="1.1" />
<rect x="485.87" y="341.02" width="8.72" height="10.42" fill="#dcdcdc" stroke="#9c9c9c" stroke-width="1.1" />
<rect x="494.59" y="341.02" width="8.72" height="10.42" fill="#dcdcdc" stroke="#9c9c9c" stroke-width="1.1" />
<rect x="503.31" y="341.02" width="8.72" height="10.42" fill="#dcdcdc" stroke="#9c9c9c" stroke-width="1.1" />
<rect x="512.03" y="341.02" width="8.72" height="10.42" fill="#dcdcdc" stroke="#9c9c9c" stroke-width="1.1" />
<rect x="520.75" y="341.02" width="8.72" height="10.42" fill="#dcdcdc" stroke="#9c9c9c" stroke-width="1.1" />
<rect x="529.47" y="341.02" width="8.72" height="10.42" fill="#dcdcdc" stroke="#9c9c9c" stroke-width="1.1" />
<rect x="538.19" y="341.02" width="8.72" height="10.42" fill="#dcdcdc" stroke="#9c9c9c" stroke-width="1.1" />
<rect x="546.91" y="341.02" width="8.72" height="10.42" fill="#dcdcdc" stroke="#9c9c9c" stroke-width="1.1" />
<rect x="555.63" y="341.02" width="8.72" height="10.42" fill="#dcdcdc" stroke="#9c9c9c" stroke-width="1.1" />
<rect x="564.35" y="341.02" width="8.72" height="10.42" fill="#dcdcdc" stroke="#9c9c9c" stroke-width="1.1" />
<rect x="573.07" y="341.02" width="8.72" height="10.42" fill="#dcdcdc" stroke="#9c9c9c" stroke-width="1.1" />
<rect x="581.79" y="341.02" width="8.72" height="10.42" fill="#dcdcdc" stroke="#9c9c9c" stroke-width="1.1" />
<rect x="590.51" y="341.02" width="8.72" height="10.42" fill="#dcdcdc" stroke="#9c9c9c" stroke-width="1.1" />
<rect x="433.55" y="351.44" width="8.72" height="10.42" fill="#ffffff" stroke="#9c9c9c" stroke-width="1.1" />
<rect x="442.27" y="351.44" width="8.72" height="10.42" fill="#ffffff" stroke="#9c9c9c" stroke-width="1.1" />
<rect x="450.99" y="351.44" width="8.72" height="10.42" fill="#ffffff" stroke="#9c9c9c" stroke-width="1.1" />
<rect x="459.71" y="351.44" width="8.72" height="10.42" fill="#ffffff" stroke="#9c9c9c" stroke-width="1.1" />
<rect x="468.43" y="351.44" width="8.72" height="10.42" fill="#ffffff" stroke="#9c9c9c" stroke-width="1.1" />
<rect x="477.15" y="351.44" width="8.72" height="10.42" fill="#8196ce" stroke="#9c9c9c" stroke-width="1.1" />
<rect x="485.87" y="351.44" width="8.72" height="10.42" fill="#aab8e1" stroke="#9c9c9c" stroke-width="1.1" />
<rect x="494.59" y="351.44" width="8.72" height="10.42" fill="#b8c3e7" stroke="#9c9c9c" stroke-width="1.1" />
<rect x="503.31" y="351.44" width="8.72" height="10.42" fill="#d3dbf1" stroke="#9c9c9c" stroke-width="1.1" />
<rect x="512.03" y="351.44" width="8.72" height="10.42" fill="#d8dff3" stroke="#9c9c9c" stroke-width="1.1" />
<rect x="520.75" y="351.44" width="8.72" height="10.42" fill="#e0e6f5" stroke="#9c9c9c" stroke-width="1.1" />
<rect x="529.47" y="351.44" width="8.72" height="10.42" fill="#fafbfe" stroke="#9c9c9c" stroke-width="1.1" />
<rect x="538.19" y="351.44" width="8.72" height="10.42" fill="#ffffff" stroke="#9c9c9c" stroke-width="1.1" />
<rect x="546.91" y="351.44" width="8.72" height="10.42" fill="#f8f9fd" stroke="#9c9c9c" stroke-width="1.1" />
<rect x="555.63" y="351.44" width="8.72" height="10.42" fill="#ffffff" stroke="#9c9c9c" stroke-width="1.1" />
<rect x="564.35" y="351.44" width="8.72" height="10.42" fill="#ffffff" stroke="#9c9c9c" stroke-width="1.1" />
<rect x="573.07" y="351.44" width="8.72" height="10.42" fill="#ffffff" stroke="#9c9c9c" stroke-width="1.1" />
<rect x="581.79" y="351.44" width="8.72" height="10.42" fill="#ffffff" stroke="#9c9c9c" stroke-width="1.1" />
<rect x="590.51" y="351.44" width="8.72" height="10.42" fill="#ffffff" stroke="#9c9c9c" stroke-width="1.1" />
<rect x="433.55" y="330.60" width="165.68" height="31.26" fill="none" stroke="#9c9c9c" stroke-width="1.5" />
<rect x="42.55" y="330.60" width="6.20" height="10.42" fill="#ffd20a" stroke="#9c9c9c" stroke-width="1.1" />
<rect x="42.55" y="341.02" width="6.20" height="10.42" fill="#ffd20a" stroke="#9c9c9c" stroke-width="1.1" />
<rect x="42.55" y="351.44" width="6.20" height="10.42" fill="#ffd20a" stroke="#9c9c9c" stroke-width="1.1" />
<rect x="42.55" y="330.60" width="6.20" height="31.26" fill="none" stroke="#9c9c9c" stroke-width="1.5" />
<text x="40.40" y="338.81" font-size="8.4" text-anchor="end" font-weight="bold" fill="#111" >QIAGEN</text>
<text x="40.40" y="349.23" font-size="8.4" text-anchor="end" font-weight="bold" fill="#111" >TSO Lab2</text>
<text x="40.40" y="359.65" font-size="8.4" text-anchor="end" font-weight="bold" fill="#111" >TSO Lab1</text>
<rect x="49.95" y="365.70" width="8.73" height="10.42" fill="#ffffff" stroke="#9c9c9c" stroke-width="1.1" />
<rect x="58.68" y="365.70" width="8.73" height="10.42" fill="#c8d2ee" stroke="#9c9c9c" stroke-width="1.1" />
<rect x="67.41" y="365.70" width="8.73" height="10.42" fill="#ffffff" stroke="#9c9c9c" stroke-width="1.1" />
<rect x="76.14" y="365.70" width="8.73" height="10.42" fill="#f3f5fc" stroke="#9c9c9c" stroke-width="1.1" />
<rect x="84.87" y="365.70" width="8.73" height="10.42" fill="#ffffff" stroke="#9c9c9c" stroke-width="1.1" />
<rect x="93.61" y="365.70" width="8.73" height="10.42" fill="#98aadb" stroke="#9c9c9c" stroke-width="1.1" />
<rect x="102.34" y="365.70" width="8.73" height="10.42" fill="#f3f5fc" stroke="#9c9c9c" stroke-width="1.1" />
<rect x="111.07" y="365.70" width="8.73" height="10.42" fill="#ffffff" stroke="#9c9c9c" stroke-width="1.1" />
<rect x="119.80" y="365.70" width="8.73" height="10.42" fill="#ffffff" stroke="#9c9c9c" stroke-width="1.1" />
<rect x="128.53" y="365.70" width="8.73" height="10.42" fill="#ffffff" stroke="#9c9c9c" stroke-width="1.1" />
<rect x="137.26" y="365.70" width="8.73" height="10.42" fill="#f7f8fd" stroke="#9c9c9c" stroke-width="1.1" />
<rect x="145.99" y="365.70" width="8.73" height="10.42" fill="#f7f8fd" stroke="#9c9c9c" stroke-width="1.1" />
<rect x="154.72" y="365.70" width="8.73" height="10.42" fill="#c6d0ee" stroke="#9c9c9c" stroke-width="1.1" />
<rect x="163.45" y="365.70" width="8.73" height="10.42" fill="#ffffff" stroke="#9c9c9c" stroke-width="1.1" />
<rect x="172.18" y="365.70" width="8.73" height="10.42" fill="#ffffff" stroke="#9c9c9c" stroke-width="1.1" />
<rect x="180.92" y="365.70" width="8.73" height="10.42" fill="#ffffff" stroke="#9c9c9c" stroke-width="1.1" />
<rect x="189.65" y="365.70" width="8.73" height="10.42" fill="#ffffff" stroke="#9c9c9c" stroke-width="1.1" />
<rect x="198.38" y="365.70" width="8.73" height="10.42" fill="#7f93cc" stroke="#9c9c9c" stroke-width="1.1" />
<rect x="207.11" y="365.70" width="8.73" height="10.42" fill="#95a7d9" stroke="#9c9c9c" stroke-width="1.1" />
<rect x="215.84" y="365.70" width="8.73" height="10.42" fill="#9fafdc" stroke="#9c9c9c" stroke-width="1.1" />
<rect x="224.57" y="365.70" width="8.73" height="10.42" fill="#a8b6e0" stroke="#9c9c9c" stroke-width="1.1" />
<rect x="233.30" y="365.70" width="8.73" height="10.42" fill="#b1bee3" stroke="#9c9c9c" stroke-width="1.1" />
<rect x="242.03" y="365.70" width="8.73" height="10.42" fill="#c3cdeb" stroke="#9c9c9c" stroke-width="1.1" />
<rect x="250.76" y="365.70" width="8.73" height="10.42" fill="#e3e8f6" stroke="#9c9c9c" stroke-width="1.1" />
<rect x="259.49" y="365.70" width="8.73" height="10.42" fill="#e6eaf7" stroke="#9c9c9c" stroke-width="1.1" />
<rect x="268.23" y="365.70" width="8.73" height="10.42" fill="#e4e9f7" stroke="#9c9c9c" stroke-width="1.1" />
<rect x="276.96" y="365.70" width="8.73" height="10.42" fill="#f3f5fb" stroke="#9c9c9c" stroke-width="1.1" />
<rect x="285.69" y="365.70" width="8.73" height="10.42" fill="#ffffff" stroke="#9c9c9c" stroke-width="1.1" />
<rect x="294.42" y="365.70" width="8.73" height="10.42" fill="#ffffff" stroke="#9c9c9c" stroke-width="1.1" />
<rect x="303.15" y="365.70" width="8.73" height="10.42" fill="#ffffff" stroke="#9c9c9c" stroke-width="1.1" />
<rect x="311.88" y="365.70" width="8.73" height="10.42" fill="#ffffff" stroke="#9c9c9c" stroke-width="1.1" />
<rect x="320.61" y="365.70" width="8.73" height="10.42" fill="#ffffff" stroke="#9c9c9c" stroke-width="1.1" />
<rect x="329.34" y="365.70" width="8.73" height="10.42" fill="#ffffff" stroke="#9c9c9c" stroke-width="1.1" />
<rect x="338.07" y="365.70" width="8.73" height="10.42" fill="#ffffff" stroke="#9c9c9c" stroke-width="1.1" />
<rect x="346.80" y="365.70" width="8.73" height="10.42" fill="#ffffff" stroke="#9c9c9c" stroke-width="1.1" />
<rect x="49.95" y="376.12" width="8.73" height="10.42" fill="#ffffff" stroke="#9c9c9c" stroke-width="1.1" />
<rect x="58.68" y="376.12" width="8.73" height="10.42" fill="#c8d2ee" stroke="#9c9c9c" stroke-width="1.1" />
<rect x="67.41" y="376.12" width="8.73" height="10.42" fill="#ffffff" stroke="#9c9c9c" stroke-width="1.1" />
<rect x="76.14" y="376.12" width="8.73" height="10.42" fill="#ffffff" stroke="#9c9c9c" stroke-width="1.1" />
<rect x="84.87" y="376.12" width="8.73" height="10.42" fill="#ffffff" stroke="#9c9c9c" stroke-width="1.1" />
<rect x="93.61" y="376.12" width="8.73" height="10.42" fill="#98aadb" stroke="#9c9c9c" stroke-width="1.1" />
<rect x="102.34" y="376.12" width="8.73" height="10.42" fill="#ffffff" stroke="#9c9c9c" stroke-width="1.1" />
<rect x="111.07" y="376.12" width="8.73" height="10.42" fill="#ffffff" stroke="#9c9c9c" stroke-width="1.1" />
<rect x="119.80" y="376.12" width="8.73" height="10.42" fill="#ffffff" stroke="#9c9c9c" stroke-width="1.1" />
<rect x="128.53" y="376.12" width="8.73" height="10.42" fill="#ffffff" stroke="#9c9c9c" stroke-width="1.1" />
<rect x="137.26" y="376.12" width="8.73" height="10.42" fill="#ffffff" stroke="#9c9c9c" stroke-width="1.1" />
<rect x="145.99" y="376.12" width="8.73" height="10.42" fill="#ffffff" stroke="#9c9c9c" stroke-width="1.1" />
<rect x="154.72" y="376.12" width="8.73" height="10.42" fill="#ccd5ef" stroke="#9c9c9c" stroke-width="1.1" />
<rect x="163.45" y="376.12" width="8.73" height="10.42" fill="#ffffff" stroke="#9c9c9c" stroke-width="1.1" />
<rect x="172.18" y="376.12" width="8.73" height="10.42" fill="#ffffff" stroke="#9c9c9c" stroke-width="1.1" />
<rect x="180.92" y="376.12" width="8.73" height="10.42" fill="#ffffff" stroke="#9c9c9c" stroke-width="1.1" />
<rect x="189.65" y="376.12" width="8.73" height="10.42" fill="#ffffff" stroke="#9c9c9c" stroke-width="1.1" />
<rect x="198.38" y="376.12" width="8.73" height="10.42" fill="#ffffff" stroke="#9c9c9c" stroke-width="1.1" />
<rect x="207.11" y="376.12" width="8.73" height="10.42" fill="#c5cfed" stroke="#9c9c9c" stroke-width="1.1" />
<rect x="215.84" y="376.12" width="8.73" height="10.42" fill="#98a9da" stroke="#9c9c9c" stroke-width="1.1" />
<rect x="224.57" y="376.12" width="8.73" height="10.42" fill="#95a7d9" stroke="#9c9c9c" stroke-width="1.1" />
<rect x="233.30" y="376.12" width="8.73" height="10.42" fill="#b1bee3" stroke="#9c9c9c" stroke-width="1.1" />
<rect x="242.03" y="376.12" width="8.73" height="10.42" fill="#d0d8f0" stroke="#9c9c9c" stroke-width="1.1" />
<rect x="250.76" y="376.12" width="8.73" height="10.42" fill="#e6ebf7" stroke="#9c9c9c" stroke-width="1.1" />
<rect x="259.49" y="376.12" width="8.73" height="10.42" fill="#ffffff" stroke="#9c9c9c" stroke-width="1.1" />
<rect x="268.23" y="376.12" width="8.73" height="10.42" fill="#e8ecf8" stroke="#9c9c9c" stroke-width="1.1" />
<rect x="276.96" y="376.12" width="8.73" height="10.42" fill="#ffffff" stroke="#9c9c9c" stroke-width="1.1" />
<rect x="285.69" y="376.12" width="8.73" height="10.42" fill="#ffffff" stroke="#9c9c9c" stroke-width="1.1" />
<rect x="294.42" y="376.12" width="8.73" height="10.42" fill="#ffffff" stroke="#9c9c9c" stroke-width="1.1" />
<rect x="303.15" y="376.12" width="8.73" height="10.42" fill="#ffffff" stroke="#9c9c9c" stroke-width="1.1" />
<rect x="311.88" y="376.12" width="8.73" height="10.42" fill="#ffffff" stroke="#9c9c9c" stroke-width="1.1" />
<rect x="320.61" y="376.12" width="8.73" height="10.42" fill="#ffffff" stroke="#9c9c9c" stroke-width="1.1" />
<rect x="329.34" y="376.12" width="8.73" height="10.42" fill="#ffffff" stroke="#9c9c9c" stroke-width="1.1" />
<rect x="338.07" y="376.12" width="8.73" height="10.42" fill="#ffffff" stroke="#9c9c9c" stroke-width="1.1" />
<rect x="346.80" y="376.12" width="8.73" height="10.42" fill="#ffffff" stroke="#9c9c9c" stroke-width="1.1" />
<rect x="49.95" y="386.54" width="8.73" height="10.42" fill="#dcdcdc" stroke="#9c9c9c" stroke-width="1.1" />
<rect x="58.68" y="386.54" width="8.73" height="10.42" fill="#dcdcdc" stroke="#9c9c9c" stroke-width="1.1" />
<rect x="67.41" y="386.54" width="8.73" height="10.42" fill="#dcdcdc" stroke="#9c9c9c" stroke-width="1.1" />
<rect x="76.14" y="386.54" width="8.73" height="10.42" fill="#dcdcdc" stroke="#9c9c9c" stroke-width="1.1" />
<rect x="84.87" y="386.54" width="8.73" height="10.42" fill="#dcdcdc" stroke="#9c9c9c" stroke-width="1.1" />
<rect x="93.61" y="386.54" width="8.73" height="10.42" fill="#dcdcdc" stroke="#9c9c9c" stroke-width="1.1" />
<rect x="102.34" y="386.54" width="8.73" height="10.42" fill="#dcdcdc" stroke="#9c9c9c" stroke-width="1.1" />
<rect x="111.07" y="386.54" width="8.73" height="10.42" fill="#dcdcdc" stroke="#9c9c9c" stroke-width="1.1" />
<rect x="119.80" y="386.54" width="8.73" height="10.42" fill="#dcdcdc" stroke="#9c9c9c" stroke-width="1.1" />
<rect x="128.53" y="386.54" width="8.73" height="10.42" fill="#dcdcdc" stroke="#9c9c9c" stroke-width="1.1" />
<rect x="137.26" y="386.54" width="8.73" height="10.42" fill="#dcdcdc" stroke="#9c9c9c" stroke-width="1.1" />
<rect x="145.99" y="386.54" width="8.73" height="10.42" fill="#dcdcdc" stroke="#9c9c9c" stroke-width="1.1" />
<rect x="154.72" y="386.54" width="8.73" height="10.42" fill="#dcdcdc" stroke="#9c9c9c" stroke-width="1.1" />
<rect x="163.45" y="386.54" width="8.73" height="10.42" fill="#dcdcdc" stroke="#9c9c9c" stroke-width="1.1" />
<rect x="172.18" y="386.54" width="8.73" height="10.42" fill="#dcdcdc" stroke="#9c9c9c" stroke-width="1.1" />
<rect x="180.92" y="386.54" width="8.73" height="10.42" fill="#dcdcdc" stroke="#9c9c9c" stroke-width="1.1" />
<rect x="189.65" y="386.54" width="8.73" height="10.42" fill="#dcdcdc" stroke="#9c9c9c" stroke-width="1.1" />
<rect x="198.38" y="386.54" width="8.73" height="10.42" fill="#dcdcdc" stroke="#9c9c9c" stroke-width="1.1" />
<rect x="207.11" y="386.54" width="8.73" height="10.42" fill="#dcdcdc" stroke="#9c9c9c" stroke-width="1.1" />
<rect x="215.84" y="386.54" width="8.73" height="10.42" fill="#dcdcdc" stroke="#9c9c9c" stroke-width="1.1" />
<rect x="224.57" y="386.54" width="8.73" height="10.42" fill="#dcdcdc" stroke="#9c9c9c" stroke-width="1.1" />
<rect x="233.30" y="386.54" width="8.73" height="10.42" fill="#dcdcdc" stroke="#9c9c9c" stroke-width="1.1" />
<rect x="242.03" y="386.54" width="8.73" height="10.42" fill="#dcdcdc" stroke="#9c9c9c" stroke-width="1.1" />
<rect x="250.76" y="386.54" width="8.73" height="10.42" fill="#dcdcdc" stroke="#9c9c9c" stroke-width="1.1" />
<rect x="259.49" y="386.54" width="8.73" height="10.42" fill="#dcdcdc" stroke="#9c9c9c" stroke-width="1.1" />
<rect x="268.23" y="386.54" width="8.73" height="10.42" fill="#dcdcdc" stroke="#9c9c9c" stroke-width="1.1" />
<rect x="276.96" y="386.54" width="8.73" height="10.42" fill="#dcdcdc" stroke="#9c9c9c" stroke-width="1.1" />
<rect x="285.69" y="386.54" width="8.73" height="10.42" fill="#dcdcdc" stroke="#9c9c9c" stroke-width="1.1" />
<rect x="294.42" y="386.54" width="8.73" height="10.42" fill="#dcdcdc" stroke="#9c9c9c" stroke-width="1.1" />
<rect x="303.15" y="386.54" width="8.73" height="10.42" fill="#dcdcdc" stroke="#9c9c9c" stroke-width="1.1" />
<rect x="311.88" y="386.54" width="8.73" height="10.42" fill="#dcdcdc" stroke="#9c9c9c" stroke-width="1.1" />
<rect x="320.61" y="386.54" width="8.73" height="10.42" fill="#dcdcdc" stroke="#9c9c9c" stroke-width="1.1" />
<rect x="329.34" y="386.54" width="8.73" height="10.42" fill="#dcdcdc" stroke="#9c9c9c" stroke-width="1.1" />
<rect x="338.07" y="386.54" width="8.73" height="10.42" fill="#dcdcdc" stroke="#9c9c9c" stroke-width="1.1" />
<rect x="346.80" y="386.54" width="8.73" height="10.42" fill="#dcdcdc" stroke="#9c9c9c" stroke-width="1.1" />
<rect x="49.95" y="365.70" width="305.58" height="31.26" fill="none" stroke="#9c9c9c" stroke-width="1.5" />
<rect x="359.75" y="365.70" width="8.67" height="10.42" fill="#ffffff" stroke="#9c9c9c" stroke-width="1.1" />
<rect x="368.42" y="365.70" width="8.67" height="10.42" fill="#ffffff" stroke="#9c9c9c" stroke-width="1.1" />
<rect x="377.09" y="365.70" width="8.67" height="10.42" fill="#ffffff" stroke="#9c9c9c" stroke-width="1.1" />
<rect x="385.76" y="365.70" width="8.67" height="10.42" fill="#ffffff" stroke="#9c9c9c" stroke-width="1.1" />
<rect x="394.43" y="365.70" width="8.67" height="10.42" fill="#ffffff" stroke="#9c9c9c" stroke-width="1.1" />
<rect x="403.10" y="365.70" width="8.67" height="10.42" fill="#ffffff" stroke="#9c9c9c" stroke-width="1.1" />
<rect x="411.77" y="365.70" width="8.67" height="10.42" fill="#ffffff" stroke="#9c9c9c" stroke-width="1.1" />
<rect x="420.44" y="365.70" width="8.67" height="10.42" fill="#ffffff" stroke="#9c9c9c" stroke-width="1.1" />
<rect x="359.75" y="376.12" width="8.67" height="10.42" fill="#ffffff" stroke="#9c9c9c" stroke-width="1.1" />
<rect x="368.42" y="376.12" width="8.67" height="10.42" fill="#ffffff" stroke="#9c9c9c" stroke-width="1.1" />
<rect x="377.09" y="376.12" width="8.67" height="10.42" fill="#ffffff" stroke="#9c9c9c" stroke-width="1.1" />
<rect x="385.76" y="376.12" width="8.67" height="10.42" fill="#ffffff" stroke="#9c9c9c" stroke-width="1.1" />
<rect x="394.43" y="376.12" width="8.67" height="10.42" fill="#ffffff" stroke="#9c9c9c" stroke-width="1.1" />
<rect x="403.10" y="376.12" width="8.67" height="10.42" fill="#ffffff" stroke="#9c9c9c" stroke-width="1.1" />
<rect x="411.77" y="376.12" width="8.67" height="10.42" fill="#ffffff" stroke="#9c9c9c" stroke-width="1.1" />
<rect x="420.44" y="376.12" width="8.67" height="10.42" fill="#ffffff" stroke="#9c9c9c" stroke-width="1.1" />
<rect x="359.75" y="386.54" width="8.67" height="10.42" fill="#ffffff" stroke="#9c9c9c" stroke-width="1.1" />
<rect x="368.42" y="386.54" width="8.67" height="10.42" fill="#ffffff" stroke="#9c9c9c" stroke-width="1.1" />
<rect x="377.09" y="386.54" width="8.67" height="10.42" fill="#ffffff" stroke="#9c9c9c" stroke-width="1.1" />
<rect x="385.76" y="386.54" width="8.67" height="10.42" fill="#ffffff" stroke="#9c9c9c" stroke-width="1.1" />
<rect x="394.43" y="386.54" width="8.67" height="10.42" fill="#ffffff" stroke="#9c9c9c" stroke-width="1.1" />
<rect x="403.10" y="386.54" width="8.67" height="10.42" fill="#ffffff" stroke="#9c9c9c" stroke-width="1.1" />
<rect x="411.77" y="386.54" width="8.67" height="10.42" fill="#ffffff" stroke="#9c9c9c" stroke-width="1.1" />
<rect x="420.44" y="386.54" width="8.67" height="10.42" fill="#ffffff" stroke="#9c9c9c" stroke-width="1.1" />
<rect x="359.75" y="365.70" width="69.36" height="31.26" fill="none" stroke="#9c9c9c" stroke-width="1.5" />
<rect x="433.55" y="365.70" width="8.72" height="10.42" fill="#ffffff" stroke="#9c9c9c" stroke-width="1.1" />
<rect x="442.27" y="365.70" width="8.72" height="10.42" fill="#ffffff" stroke="#9c9c9c" stroke-width="1.1" />
<rect x="450.99" y="365.70" width="8.72" height="10.42" fill="#ffffff" stroke="#9c9c9c" stroke-width="1.1" />
<rect x="459.71" y="365.70" width="8.72" height="10.42" fill="#ffffff" stroke="#9c9c9c" stroke-width="1.1" />
<rect x="468.43" y="365.70" width="8.72" height="10.42" fill="#ffffff" stroke="#9c9c9c" stroke-width="1.1" />
<rect x="477.15" y="365.70" width="8.72" height="10.42" fill="#ffffff" stroke="#9c9c9c" stroke-width="1.1" />
<rect x="485.87" y="365.70" width="8.72" height="10.42" fill="#ffffff" stroke="#9c9c9c" stroke-width="1.1" />
<rect x="494.59" y="365.70" width="8.72" height="10.42" fill="#ffffff" stroke="#9c9c9c" stroke-width="1.1" />
<rect x="503.31" y="365.70" width="8.72" height="10.42" fill="#ffffff" stroke="#9c9c9c" stroke-width="1.1" />
<rect x="512.03" y="365.70" width="8.72" height="10.42" fill="#e8ecf8" stroke="#9c9c9c" stroke-width="1.1" />
<rect x="520.75" y="365.70" width="8.72" height="10.42" fill="#ffffff" stroke="#9c9c9c" stroke-width="1.1" />
<rect x="529.47" y="365.70" width="8.72" height="10.42" fill="#5b72bd" stroke="#9c9c9c" stroke-width="1.1" />
<rect x="538.19" y="365.70" width="8.72" height="10.42" fill="#b4c0e5" stroke="#9c9c9c" stroke-width="1.1" />
<rect x="546.91" y="365.70" width="8.72" height="10.42" fill="#e6ebf7" stroke="#9c9c9c" stroke-width="1.1" />
<rect x="555.63" y="365.70" width="8.72" height="10.42" fill="#ffffff" stroke="#9c9c9c" stroke-width="1.1" />
<rect x="564.35" y="365.70" width="8.72" height="10.42" fill="#ffffff" stroke="#9c9c9c" stroke-width="1.1" />
<rect x="573.07" y="365.70" width="8.72" height="10.42" fill="#ffffff" stroke="#9c9c9c" stroke-width="1.1" />
<rect x="581.79" y="365.70" width="8.72" height="10.42" fill="#ffffff" stroke="#9c9c9c" stroke-width="1.1" />
<rect x="590.51" y="365.70" width="8.72" height="10.42" fill="#ffffff" stroke="#9c9c9c" stroke-width="1.1" />
<rect x="433.55" y="376.12" width="8.72" height="10.42" fill="#dcdcdc" stroke="#9c9c9c" stroke-width="1.1" />
<rect x="442.27" y="376.12" width="8.72" height="10.42" fill="#dcdcdc" stroke="#9c9c9c" stroke-width="1.1" />
<rect x="450.99" y="376.12" width="8.72" height="10.42" fill="#dcdcdc" stroke="#9c9c9c" stroke-width="1.1" />
<rect x="459.71" y="376.12" width="8.72" height="10.42" fill="#dcdcdc" stroke="#9c9c9c" stroke-width="1.1" />
<rect x="468.43" y="376.12" width="8.72" height="10.42" fill="#dcdcdc" stroke="#9c9c9c" stroke-width="1.1" />
<rect x="477.15" y="376.12" width="8.72" height="10.42" fill="#dcdcdc" stroke="#9c9c9c" stroke-width="1.1" />
<rect x="485.87" y="376.12" width="8.72" height="10.42" fill="#dcdcdc" stroke="#9c9c9c" stroke-width="1.1" />
<rect x="494.59" y="376.12" width="8.72" height="10.42" fill="#dcdcdc" stroke="#9c9c9c" stroke-width="1.1" />
<rect x="503.31" y="376.12" width="8.72" height="10.42" fill="#dcdcdc" stroke="#9c9c9c" stroke-width="1.1" />
<rect x="512.03" y="376.12" width="8.72" height="10.42" fill="#dcdcdc" stroke="#9c9c9c" stroke-width="1.1" />
<rect x="520.75" y="376.12" width="8.72" height="10.42" fill="#dcdcdc" stroke="#9c9c9c" stroke-width="1.1" />
<rect x="529.47" y="376.12" width="8.72" height="10.42" fill="#dcdcdc" stroke="#9c9c9c" stroke-width="1.1" />
<rect x="538.19" y="376.12" width="8.72" height="10.42" fill="#dcdcdc" stroke="#9c9c9c" stroke-width="1.1" />
<rect x="546.91" y="376.12" width="8.72" height="10.42" fill="#dcdcdc" stroke="#9c9c9c" stroke-width="1.1" />
<rect x="555.63" y="376.12" width="8.72" height="10.42" fill="#dcdcdc" stroke="#9c9c9c" stroke-width="1.1" />
<rect x="564.35" y="376.12" width="8.72" height="10.42" fill="#dcdcdc" stroke="#9c9c9c" stroke-width="1.1" />
<rect x="573.07" y="376.12" width="8.72" height="10.42" fill="#dcdcdc" stroke="#9c9c9c" stroke-width="1.1" />
<rect x="581.79" y="376.12" width="8.72" height="10.42" fill="#dcdcdc" stroke="#9c9c9c" stroke-width="1.1" />
<rect x="590.51" y="376.12" width="8.72" height="10.42" fill="#dcdcdc" stroke="#9c9c9c" stroke-width="1.1" />
<rect x="433.55" y="386.54" width="8.72" height="10.42" fill="#ffffff" stroke="#9c9c9c" stroke-width="1.1" />
<rect x="442.27" y="386.54" width="8.72" height="10.42" fill="#ffffff" stroke="#9c9c9c" stroke-width="1.1" />
<rect x="450.99" y="386.54" width="8.72" height="10.42" fill="#ffffff" stroke="#9c9c9c" stroke-width="1.1" />
<rect x="459.71" y="386.54" width="8.72" height="10.42" fill="#ffffff" stroke="#9c9c9c" stroke-width="1.1" />
<rect x="468.43" y="386.54" width="8.72" height="10.42" fill="#ffffff" stroke="#9c9c9c" stroke-width="1.1" />
<rect x="477.15" y="386.54" width="8.72" height="10.42" fill="#ffffff" stroke="#9c9c9c" stroke-width="1.1" />
<rect x="485.87" y="386.54" width="8.72" height="10.42" fill="#ffffff" stroke="#9c9c9c" stroke-width="1.1" />
<rect x="494.59" y="386.54" width="8.72" height="10.42" fill="#ffffff" stroke="#9c9c9c" stroke-width="1.1" />
<rect x="503.31" y="386.54" width="8.72" height="10.42" fill="#ffffff" stroke="#9c9c9c" stroke-width="1.1" />
<rect x="512.03" y="386.54" width="8.72" height="10.42" fill="#e6ebf7" stroke="#9c9c9c" stroke-width="1.1" />
<rect x="520.75" y="386.54" width="8.72" height="10.42" fill="#ffffff" stroke="#9c9c9c" stroke-width="1.1" />
<rect x="529.47" y="386.54" width="8.72" height="10.42" fill="#ffffff" stroke="#9c9c9c" stroke-width="1.1" />
<rect x="538.19" y="386.54" width="8.72" height="10.42" fill="#b4c0e5" stroke="#9c9c9c" stroke-width="1.1" />
<rect x="546.91" y="386.54" width="8.72" height="10.42" fill="#e6ebf7" stroke="#9c9c9c" stroke-width="1.1" />
<rect x="555.63" y="386.54" width="8.72" height="10.42" fill="#ffffff" stroke="#9c9c9c" stroke-width="1.1" />
<rect x="564.35" y="386.54" width="8.72" height="10.42" fill="#ffffff" stroke="#9c9c9c" stroke-width="1.1" />
<rect x="573.07" y="386.54" width="8.72" height="10.42" fill="#eef1fa" stroke="#9c9c9c" stroke-width="1.1" />
<rect x="581.79" y="386.54" width="8.72" height="10.42" fill="#ffffff" stroke="#9c9c9c" stroke-width="1.1" />
<rect x="590.51" y="386.54" width="8.72" height="10.42" fill="#ffffff" stroke="#9c9c9c" stroke-width="1.1" />
<rect x="433.55" y="365.70" width="165.68" height="31.26" fill="none" stroke="#9c9c9c" stroke-width="1.5" />
<rect x="42.55" y="365.70" width="6.20" height="10.42" fill="#74c3ca" stroke="#9c9c9c" stroke-width="1.1" />
<rect x="42.55" y="376.12" width="6.20" height="10.42" fill="#74c3ca" stroke="#9c9c9c" stroke-width="1.1" />
<rect x="42.55" y="386.54" width="6.20" height="10.42" fill="#74c3ca" stroke="#9c9c9c" stroke-width="1.1" />
<rect x="42.55" y="365.70" width="6.20" height="31.26" fill="none" stroke="#9c9c9c" stroke-width="1.5" />
<text x="40.40" y="373.91" font-size="8.4" text-anchor="end" font-weight="bold" fill="#111" >QIAGEN</text>
<text x="40.40" y="384.33" font-size="8.4" text-anchor="end" font-weight="bold" fill="#111" >TSO Lab2</text>
<text x="40.40" y="394.75" font-size="8.4" text-anchor="end" font-weight="bold" fill="#111" >TSO Lab1</text>
<text x="601.20" y="279.80" font-size="5.8" text-anchor="start" font-weight="bold" fill="#111" >QIAGEN</text>
<text x="601.20" y="286.30" font-size="5.8" text-anchor="start" font-weight="bold" fill="#111" >L2</text>
<text x="601.20" y="293.12" font-size="5.8" text-anchor="start" font-weight="bold" fill="#111" >L1</text>
<defs><linearGradient id="afg" x1="0" y1="0" x2="0" y2="1"><stop offset="0" stop-color="#4a62b8"/><stop offset="0.5" stop-color="#98a8da"/><stop offset="1" stop-color="#ffffff"/></linearGradient></defs>
<rect x="602.10" y="296.20" width="4.10" height="70.60" fill="url(#afg)" stroke="none" stroke-width="0" />
<text x="608.60" y="298.40" font-size="5.9" text-anchor="start" font-weight="normal" fill="#2e2e2e" >AF(%)</text>
<text x="608.80" y="305.50" font-size="5.9" text-anchor="start" font-weight="normal" fill="#2e2e2e" >80</text>
<text x="608.80" y="322.10" font-size="5.9" text-anchor="start" font-weight="normal" fill="#2e2e2e" >60</text>
<text x="608.80" y="338.90" font-size="5.9" text-anchor="start" font-weight="normal" fill="#2e2e2e" >40</text>
<text x="608.80" y="355.50" font-size="5.9" text-anchor="start" font-weight="normal" fill="#2e2e2e" >20</text>
<text x="608.80" y="372.50" font-size="5.9" text-anchor="start" font-weight="normal" fill="#2e2e2e" >No Mut</text>
<text x="632.40" y="301.10" font-size="5.9" text-anchor="start" font-weight="bold" fill="#111" >Sample</text>
<text x="632.40" y="307.90" font-size="5.9" text-anchor="start" font-weight="bold" fill="#111" >in panel</text>
<rect x="632.60" y="310.90" width="8.00" height="8.00" fill="#1c1c1c" stroke="#9c9c9c" stroke-width="1.0" />
<rect x="632.60" y="318.90" width="8.00" height="8.40" fill="#dcdcdc" stroke="#9c9c9c" stroke-width="1.0" />
<text x="642.30" y="316.90" font-size="5.8" text-anchor="start" font-weight="normal" fill="#2e2e2e" >Yes</text>
<text x="642.30" y="325.10" font-size="5.8" text-anchor="start" font-weight="normal" fill="#2e2e2e" >No</text>
<text x="632.40" y="337.60" font-size="5.9" text-anchor="start" font-weight="bold" fill="#111" >Subtype</text>
<rect x="632.60" y="339.90" width="8.00" height="8.50" fill="#ee3a3a" stroke="#9c9c9c" stroke-width="1.0" />
<text x="642.30" y="346.20" font-size="5.8" text-anchor="start" font-weight="normal" fill="#2e2e2e" >BRAF</text>
<rect x="632.60" y="348.40" width="8.00" height="8.50" fill="#ffd20a" stroke="#9c9c9c" stroke-width="1.0" />
<text x="642.30" y="354.70" font-size="5.8" text-anchor="start" font-weight="normal" fill="#2e2e2e" >RAS</text>
<rect x="632.60" y="356.90" width="8.00" height="8.50" fill="#74c3ca" stroke="#9c9c9c" stroke-width="1.0" />
<text x="642.30" y="363.20" font-size="5.8" text-anchor="start" font-weight="normal" fill="#2e2e2e" >NF1</text>
<text x="0.20" y="415.80" font-size="17.5" text-anchor="start" font-weight="normal" fill="#111" >e</text>
<text x="178.10" y="424.70" font-size="12.25" text-anchor="middle" font-weight="bold" fill="#111" >Hallmark Mutation Frequency</text>
<rect x="44.15" y="429.55" width="8.42" height="10.15" fill="#6a80c4" stroke="#9c9c9c" stroke-width="1.1" />
<rect x="52.57" y="429.55" width="8.42" height="10.15" fill="#6a80c4" stroke="#9c9c9c" stroke-width="1.1" />
<rect x="60.98" y="429.55" width="8.42" height="10.15" fill="#9fafdc" stroke="#9c9c9c" stroke-width="1.1" />
<rect x="69.40" y="429.55" width="8.42" height="10.15" fill="#dde3f5" stroke="#9c9c9c" stroke-width="1.1" />
<rect x="77.82" y="429.55" width="8.42" height="10.15" fill="#ffffff" stroke="#9c9c9c" stroke-width="1.1" />
<rect x="86.23" y="429.55" width="8.42" height="10.15" fill="#ffffff" stroke="#9c9c9c" stroke-width="1.1" />
<rect x="94.65" y="429.55" width="8.42" height="10.15" fill="#ffffff" stroke="#9c9c9c" stroke-width="1.1" />
<rect x="103.07" y="429.55" width="8.42" height="10.15" fill="#ffffff" stroke="#9c9c9c" stroke-width="1.1" />
<rect x="111.49" y="429.55" width="8.42" height="10.15" fill="#ffffff" stroke="#9c9c9c" stroke-width="1.1" />
<rect x="119.90" y="429.55" width="8.42" height="10.15" fill="#ffffff" stroke="#9c9c9c" stroke-width="1.1" />
<rect x="128.32" y="429.55" width="8.42" height="10.15" fill="#ffffff" stroke="#9c9c9c" stroke-width="1.1" />
<rect x="136.74" y="429.55" width="8.42" height="10.15" fill="#ffffff" stroke="#9c9c9c" stroke-width="1.1" />
<rect x="145.15" y="429.55" width="8.42" height="10.15" fill="#ffffff" stroke="#9c9c9c" stroke-width="1.1" />
<rect x="153.57" y="429.55" width="8.42" height="10.15" fill="#ffffff" stroke="#9c9c9c" stroke-width="1.1" />
<rect x="161.99" y="429.55" width="8.42" height="10.15" fill="#ffffff" stroke="#9c9c9c" stroke-width="1.1" />
<rect x="170.41" y="429.55" width="8.42" height="10.15" fill="#ffffff" stroke="#9c9c9c" stroke-width="1.1" />
<rect x="178.82" y="429.55" width="8.42" height="10.15" fill="#ffffff" stroke="#9c9c9c" stroke-width="1.1" />
<rect x="187.24" y="429.55" width="8.42" height="10.15" fill="#ffffff" stroke="#9c9c9c" stroke-width="1.1" />
<rect x="195.66" y="429.55" width="8.42" height="10.15" fill="#ffffff" stroke="#9c9c9c" stroke-width="1.1" />
<rect x="204.07" y="429.55" width="8.42" height="10.15" fill="#ffffff" stroke="#9c9c9c" stroke-width="1.1" />
<rect x="212.49" y="429.55" width="8.42" height="10.15" fill="#ffffff" stroke="#9c9c9c" stroke-width="1.1" />
<rect x="220.91" y="429.55" width="8.42" height="10.15" fill="#ffffff" stroke="#9c9c9c" stroke-width="1.1" />
<rect x="229.32" y="429.55" width="8.42" height="10.15" fill="#ffffff" stroke="#9c9c9c" stroke-width="1.1" />
<rect x="237.74" y="429.55" width="8.42" height="10.15" fill="#ffffff" stroke="#9c9c9c" stroke-width="1.1" />
<rect x="246.16" y="429.55" width="8.42" height="10.15" fill="#ffffff" stroke="#9c9c9c" stroke-width="1.1" />
<rect x="254.57" y="429.55" width="8.42" height="10.15" fill="#ffffff" stroke="#9c9c9c" stroke-width="1.1" />
<rect x="262.99" y="429.55" width="8.42" height="10.15" fill="#ffffff" stroke="#9c9c9c" stroke-width="1.1" />
<rect x="271.41" y="429.55" width="8.42" height="10.15" fill="#ffffff" stroke="#9c9c9c" stroke-width="1.1" />
<rect x="279.83" y="429.55" width="8.42" height="10.15" fill="#ffffff" stroke="#9c9c9c" stroke-width="1.1" />
<rect x="288.24" y="429.55" width="8.42" height="10.15" fill="#ffffff" stroke="#9c9c9c" stroke-width="1.1" />
<rect x="44.15" y="439.70" width="8.42" height="10.15" fill="#6a80c4" stroke="#9c9c9c" stroke-width="1.1" />
<rect x="52.57" y="439.70" width="8.42" height="10.15" fill="#6a80c4" stroke="#9c9c9c" stroke-width="1.1" />
<rect x="60.98" y="439.70" width="8.42" height="10.15" fill="#9fafdc" stroke="#9c9c9c" stroke-width="1.1" />
<rect x="69.40" y="439.70" width="8.42" height="10.15" fill="#c5cfed" stroke="#9c9c9c" stroke-width="1.1" />
<rect x="77.82" y="439.70" width="8.42" height="10.15" fill="#ffffff" stroke="#9c9c9c" stroke-width="1.1" />
<rect x="86.23" y="439.70" width="8.42" height="10.15" fill="#ffffff" stroke="#9c9c9c" stroke-width="1.1" />
<rect x="94.65" y="439.70" width="8.42" height="10.15" fill="#ffffff" stroke="#9c9c9c" stroke-width="1.1" />
<rect x="103.07" y="439.70" width="8.42" height="10.15" fill="#ffffff" stroke="#9c9c9c" stroke-width="1.1" />
<rect x="111.49" y="439.70" width="8.42" height="10.15" fill="#ffffff" stroke="#9c9c9c" stroke-width="1.1" />
<rect x="119.90" y="439.70" width="8.42" height="10.15" fill="#ffffff" stroke="#9c9c9c" stroke-width="1.1" />
<rect x="128.32" y="439.70" width="8.42" height="10.15" fill="#ffffff" stroke="#9c9c9c" stroke-width="1.1" />
<rect x="136.74" y="439.70" width="8.42" height="10.15" fill="#ffffff" stroke="#9c9c9c" stroke-width="1.1" />
<rect x="145.15" y="439.70" width="8.42" height="10.15" fill="#ffffff" stroke="#9c9c9c" stroke-width="1.1" />
<rect x="153.57" y="439.70" width="8.42" height="10.15" fill="#ffffff" stroke="#9c9c9c" stroke-width="1.1" />
<rect x="161.99" y="439.70" width="8.42" height="10.15" fill="#ffffff" stroke="#9c9c9c" stroke-width="1.1" />
<rect x="170.41" y="439.70" width="8.42" height="10.15" fill="#ffffff" stroke="#9c9c9c" stroke-width="1.1" />
<rect x="178.82" y="439.70" width="8.42" height="10.15" fill="#ffffff" stroke="#9c9c9c" stroke-width="1.1" />
<rect x="187.24" y="439.70" width="8.42" height="10.15" fill="#ffffff" stroke="#9c9c9c" stroke-width="1.1" />
<rect x="195.66" y="439.70" width="8.42" height="10.15" fill="#ffffff" stroke="#9c9c9c" stroke-width="1.1" />
<rect x="204.07" y="439.70" width="8.42" height="10.15" fill="#ffffff" stroke="#9c9c9c" stroke-width="1.1" />
<rect x="212.49" y="439.70" width="8.42" height="10.15" fill="#ffffff" stroke="#9c9c9c" stroke-width="1.1" />
<rect x="220.91" y="439.70" width="8.42" height="10.15" fill="#ffffff" stroke="#9c9c9c" stroke-width="1.1" />
<rect x="229.32" y="439.70" width="8.42" height="10.15" fill="#ffffff" stroke="#9c9c9c" stroke-width="1.1" />
<rect x="237.74" y="439.70" width="8.42" height="10.15" fill="#ffffff" stroke="#9c9c9c" stroke-width="1.1" />
<rect x="246.16" y="439.70" width="8.42" height="10.15" fill="#ffffff" stroke="#9c9c9c" stroke-width="1.1" />
<rect x="254.57" y="439.70" width="8.42" height="10.15" fill="#ffffff" stroke="#9c9c9c" stroke-width="1.1" />
<rect x="262.99" y="439.70" width="8.42" height="10.15" fill="#ffffff" stroke="#9c9c9c" stroke-width="1.1" />
<rect x="271.41" y="439.70" width="8.42" height="10.15" fill="#ffffff" stroke="#9c9c9c" stroke-width="1.1" />
<rect x="279.83" y="439.70" width="8.42" height="10.15" fill="#ffffff" stroke="#9c9c9c" stroke-width="1.1" />
<rect x="288.24" y="439.70" width="8.42" height="10.15" fill="#ffffff" stroke="#9c9c9c" stroke-width="1.1" />
<rect x="44.15" y="429.55" width="252.51" height="20.30" fill="none" stroke="#9c9c9c" stroke-width="1.5" />
<rect x="35.95" y="429.55" width="6.50" height="10.15" fill="#ee3a3a" stroke="#9c9c9c" stroke-width="1.1" />
<rect x="35.95" y="439.70" width="6.50" height="10.15" fill="#ee3a3a" stroke="#9c9c9c" stroke-width="1.1" />
<rect x="35.95" y="429.55" width="6.50" height="20.30" fill="none" stroke="#9c9c9c" stroke-width="1.5" />
<text x="34.20" y="437.62" font-size="8.5" text-anchor="end" font-weight="bold" fill="#111" >QIAGEN</text>
<text x="34.20" y="447.77" font-size="8.5" text-anchor="end" font-weight="bold" fill="#111" >F1CDx</text>
<rect x="44.15" y="455.35" width="8.42" height="10.15" fill="#ffffff" stroke="#9c9c9c" stroke-width="1.1" />
<rect x="52.57" y="455.35" width="8.42" height="10.15" fill="#ffffff" stroke="#9c9c9c" stroke-width="1.1" />
<rect x="60.98" y="455.35" width="8.42" height="10.15" fill="#ffffff" stroke="#9c9c9c" stroke-width="1.1" />
<rect x="69.40" y="455.35" width="8.42" height="10.15" fill="#ffffff" stroke="#9c9c9c" stroke-width="1.1" />
<rect x="77.82" y="455.35" width="8.42" height="10.15" fill="#5a71bc" stroke="#9c9c9c" stroke-width="1.1" />
<rect x="86.23" y="455.35" width="8.42" height="10.15" fill="#ffffff" stroke="#9c9c9c" stroke-width="1.1" />
<rect x="94.65" y="455.35" width="8.42" height="10.15" fill="#ffffff" stroke="#9c9c9c" stroke-width="1.1" />
<rect x="103.07" y="455.35" width="8.42" height="10.15" fill="#ffffff" stroke="#9c9c9c" stroke-width="1.1" />
<rect x="111.49" y="455.35" width="8.42" height="10.15" fill="#ffffff" stroke="#9c9c9c" stroke-width="1.1" />
<rect x="119.90" y="455.35" width="8.42" height="10.15" fill="#ffffff" stroke="#9c9c9c" stroke-width="1.1" />
<rect x="128.32" y="455.35" width="8.42" height="10.15" fill="#ffffff" stroke="#9c9c9c" stroke-width="1.1" />
<rect x="136.74" y="455.35" width="8.42" height="10.15" fill="#ffffff" stroke="#9c9c9c" stroke-width="1.1" />
<rect x="145.15" y="455.35" width="8.42" height="10.15" fill="#ffffff" stroke="#9c9c9c" stroke-width="1.1" />
<rect x="153.57" y="455.35" width="8.42" height="10.15" fill="#ffffff" stroke="#9c9c9c" stroke-width="1.1" />
<rect x="161.99" y="455.35" width="8.42" height="10.15" fill="#ffffff" stroke="#9c9c9c" stroke-width="1.1" />
<rect x="170.41" y="455.35" width="8.42" height="10.15" fill="#ffffff" stroke="#9c9c9c" stroke-width="1.1" />
<rect x="178.82" y="455.35" width="8.42" height="10.15" fill="#ffffff" stroke="#9c9c9c" stroke-width="1.1" />
<rect x="187.24" y="455.35" width="8.42" height="10.15" fill="#ffffff" stroke="#9c9c9c" stroke-width="1.1" />
<rect x="195.66" y="455.35" width="8.42" height="10.15" fill="#ffffff" stroke="#9c9c9c" stroke-width="1.1" />
<rect x="204.07" y="455.35" width="8.42" height="10.15" fill="#ffffff" stroke="#9c9c9c" stroke-width="1.1" />
<rect x="212.49" y="455.35" width="8.42" height="10.15" fill="#ffffff" stroke="#9c9c9c" stroke-width="1.1" />
<rect x="220.91" y="455.35" width="8.42" height="10.15" fill="#ffffff" stroke="#9c9c9c" stroke-width="1.1" />
<rect x="229.32" y="455.35" width="8.42" height="10.15" fill="#ffffff" stroke="#9c9c9c" stroke-width="1.1" />
<rect x="237.74" y="455.35" width="8.42" height="10.15" fill="#ffffff" stroke="#9c9c9c" stroke-width="1.1" />
<rect x="246.16" y="455.35" width="8.42" height="10.15" fill="#ffffff" stroke="#9c9c9c" stroke-width="1.1" />
<rect x="254.57" y="455.35" width="8.42" height="10.15" fill="#ffffff" stroke="#9c9c9c" stroke-width="1.1" />
<rect x="262.99" y="455.35" width="8.42" height="10.15" fill="#ffffff" stroke="#9c9c9c" stroke-width="1.1" />
<rect x="271.41" y="455.35" width="8.42" height="10.15" fill="#ffffff" stroke="#9c9c9c" stroke-width="1.1" />
<rect x="279.83" y="455.35" width="8.42" height="10.15" fill="#ffffff" stroke="#9c9c9c" stroke-width="1.1" />
<rect x="288.24" y="455.35" width="8.42" height="10.15" fill="#ffffff" stroke="#9c9c9c" stroke-width="1.1" />
<rect x="44.15" y="465.50" width="8.42" height="10.15" fill="#ffffff" stroke="#9c9c9c" stroke-width="1.1" />
<rect x="52.57" y="465.50" width="8.42" height="10.15" fill="#ffffff" stroke="#9c9c9c" stroke-width="1.1" />
<rect x="60.98" y="465.50" width="8.42" height="10.15" fill="#ffffff" stroke="#9c9c9c" stroke-width="1.1" />
<rect x="69.40" y="465.50" width="8.42" height="10.15" fill="#ffffff" stroke="#9c9c9c" stroke-width="1.1" />
<rect x="77.82" y="465.50" width="8.42" height="10.15" fill="#5a71bc" stroke="#9c9c9c" stroke-width="1.1" />
<rect x="86.23" y="465.50" width="8.42" height="10.15" fill="#ffffff" stroke="#9c9c9c" stroke-width="1.1" />
<rect x="94.65" y="465.50" width="8.42" height="10.15" fill="#ffffff" stroke="#9c9c9c" stroke-width="1.1" />
<rect x="103.07" y="465.50" width="8.42" height="10.15" fill="#ffffff" stroke="#9c9c9c" stroke-width="1.1" />
<rect x="111.49" y="465.50" width="8.42" height="10.15" fill="#ffffff" stroke="#9c9c9c" stroke-width="1.1" />
<rect x="119.90" y="465.50" width="8.42" height="10.15" fill="#ffffff" stroke="#9c9c9c" stroke-width="1.1" />
<rect x="128.32" y="465.50" width="8.42" height="10.15" fill="#ffffff" stroke="#9c9c9c" stroke-width="1.1" />
<rect x="136.74" y="465.50" width="8.42" height="10.15" fill="#ffffff" stroke="#9c9c9c" stroke-width="1.1" />
<rect x="145.15" y="465.50" width="8.42" height="10.15" fill="#ffffff" stroke="#9c9c9c" stroke-width="1.1" />
<rect x="153.57" y="465.50" width="8.42" height="10.15" fill="#ffffff" stroke="#9c9c9c" stroke-width="1.1" />
<rect x="161.99" y="465.50" width="8.42" height="10.15" fill="#ffffff" stroke="#9c9c9c" stroke-width="1.1" />
<rect x="170.41" y="465.50" width="8.42" height="10.15" fill="#ffffff" stroke="#9c9c9c" stroke-width="1.1" />
<rect x="178.82" y="465.50" width="8.42" height="10.15" fill="#ffffff" stroke="#9c9c9c" stroke-width="1.1" />
<rect x="187.24" y="465.50" width="8.42" height="10.15" fill="#ffffff" stroke="#9c9c9c" stroke-width="1.1" />
<rect x="195.66" y="465.50" width="8.42" height="10.15" fill="#ffffff" stroke="#9c9c9c" stroke-width="1.1" />
<rect x="204.07" y="465.50" width="8.42" height="10.15" fill="#ffffff" stroke="#9c9c9c" stroke-width="1.1" />
<rect x="212.49" y="465.50" width="8.42" height="10.15" fill="#ffffff" stroke="#9c9c9c" stroke-width="1.1" />
<rect x="220.91" y="465.50" width="8.42" height="10.15" fill="#ffffff" stroke="#9c9c9c" stroke-width="1.1" />
<rect x="229.32" y="465.50" width="8.42" height="10.15" fill="#ffffff" stroke="#9c9c9c" stroke-width="1.1" />
<rect x="237.74" y="465.50" width="8.42" height="10.15" fill="#ffffff" stroke="#9c9c9c" stroke-width="1.1" />
<rect x="246.16" y="465.50" width="8.42" height="10.15" fill="#ffffff" stroke="#9c9c9c" stroke-width="1.1" />
<rect x="254.57" y="465.50" width="8.42" height="10.15" fill="#ffffff" stroke="#9c9c9c" stroke-width="1.1" />
<rect x="262.99" y="465.50" width="8.42" height="10.15" fill="#ffffff" stroke="#9c9c9c" stroke-width="1.1" />
<rect x="271.41" y="465.50" width="8.42" height="10.15" fill="#ffffff" stroke="#9c9c9c" stroke-width="1.1" />
<rect x="279.83" y="465.50" width="8.42" height="10.15" fill="#ffffff" stroke="#9c9c9c" stroke-width="1.1" />
<rect x="288.24" y="465.50" width="8.42" height="10.15" fill="#ffffff" stroke="#9c9c9c" stroke-width="1.1" />
<rect x="44.15" y="455.35" width="252.51" height="20.30" fill="none" stroke="#9c9c9c" stroke-width="1.5" />
<rect x="35.95" y="455.35" width="6.50" height="10.15" fill="#ffd20a" stroke="#9c9c9c" stroke-width="1.1" />
<rect x="35.95" y="465.50" width="6.50" height="10.15" fill="#ffd20a" stroke="#9c9c9c" stroke-width="1.1" />
<rect x="35.95" y="455.35" width="6.50" height="20.30" fill="none" stroke="#9c9c9c" stroke-width="1.5" />
<text x="34.20" y="463.43" font-size="8.5" text-anchor="end" font-weight="bold" fill="#111" >QIAGEN</text>
<text x="34.20" y="473.57" font-size="8.5" text-anchor="end" font-weight="bold" fill="#111" >F1CDx</text>
<rect x="44.15" y="481.10" width="8.42" height="10.15" fill="#ffffff" stroke="#9c9c9c" stroke-width="1.1" />
<rect x="52.57" y="481.10" width="8.42" height="10.15" fill="#ffffff" stroke="#9c9c9c" stroke-width="1.1" />
<rect x="60.98" y="481.10" width="8.42" height="10.15" fill="#ffffff" stroke="#9c9c9c" stroke-width="1.1" />
<rect x="69.40" y="481.10" width="8.42" height="10.15" fill="#ffffff" stroke="#9c9c9c" stroke-width="1.1" />
<rect x="77.82" y="481.10" width="8.42" height="10.15" fill="#ffffff" stroke="#9c9c9c" stroke-width="1.1" />
<rect x="86.23" y="481.10" width="8.42" height="10.15" fill="#4a62b4" stroke="#9c9c9c" stroke-width="1.1" />
<rect x="94.65" y="481.10" width="8.42" height="10.15" fill="#5269b8" stroke="#9c9c9c" stroke-width="1.1" />
<rect x="103.07" y="481.10" width="8.42" height="10.15" fill="#5d73bd" stroke="#9c9c9c" stroke-width="1.1" />
<rect x="111.49" y="481.10" width="8.42" height="10.15" fill="#a3b2de" stroke="#9c9c9c" stroke-width="1.1" />
<rect x="119.90" y="481.10" width="8.42" height="10.15" fill="#a3b2de" stroke="#9c9c9c" stroke-width="1.1" />
<rect x="128.32" y="481.10" width="8.42" height="10.15" fill="#bcc7e8" stroke="#9c9c9c" stroke-width="1.1" />
<rect x="136.74" y="481.10" width="8.42" height="10.15" fill="#bcc7e8" stroke="#9c9c9c" stroke-width="1.1" />
<rect x="145.15" y="481.10" width="8.42" height="10.15" fill="#c8d1ee" stroke="#9c9c9c" stroke-width="1.1" />
<rect x="153.57" y="481.10" width="8.42" height="10.15" fill="#d0d8f0" stroke="#9c9c9c" stroke-width="1.1" />
<rect x="161.99" y="481.10" width="8.42" height="10.15" fill="#d3dbf1" stroke="#9c9c9c" stroke-width="1.1" />
<rect x="170.41" y="481.10" width="8.42" height="10.15" fill="#dae1f4" stroke="#9c9c9c" stroke-width="1.1" />
<rect x="178.82" y="481.10" width="8.42" height="10.15" fill="#ffffff" stroke="#9c9c9c" stroke-width="1.1" />
<rect x="187.24" y="481.10" width="8.42" height="10.15" fill="#ffffff" stroke="#9c9c9c" stroke-width="1.1" />
<rect x="195.66" y="481.10" width="8.42" height="10.15" fill="#ffffff" stroke="#9c9c9c" stroke-width="1.1" />
<rect x="204.07" y="481.10" width="8.42" height="10.15" fill="#ffffff" stroke="#9c9c9c" stroke-width="1.1" />
<rect x="212.49" y="481.10" width="8.42" height="10.15" fill="#ffffff" stroke="#9c9c9c" stroke-width="1.1" />
<rect x="220.91" y="481.10" width="8.42" height="10.15" fill="#ffffff" stroke="#9c9c9c" stroke-width="1.1" />
<rect x="229.32" y="481.10" width="8.42" height="10.15" fill="#ffffff" stroke="#9c9c9c" stroke-width="1.1" />
<rect x="237.74" y="481.10" width="8.42" height="10.15" fill="#ffffff" stroke="#9c9c9c" stroke-width="1.1" />
<rect x="246.16" y="481.10" width="8.42" height="10.15" fill="#ffffff" stroke="#9c9c9c" stroke-width="1.1" />
<rect x="254.57" y="481.10" width="8.42" height="10.15" fill="#ffffff" stroke="#9c9c9c" stroke-width="1.1" />
<rect x="262.99" y="481.10" width="8.42" height="10.15" fill="#ffffff" stroke="#9c9c9c" stroke-width="1.1" />
<rect x="271.41" y="481.10" width="8.42" height="10.15" fill="#ffffff" stroke="#9c9c9c" stroke-width="1.1" />
<rect x="279.83" y="481.10" width="8.42" height="10.15" fill="#ffffff" stroke="#9c9c9c" stroke-width="1.1" />
<rect x="288.24" y="481.10" width="8.42" height="10.15" fill="#ffffff" stroke="#9c9c9c" stroke-width="1.1" />
<rect x="44.15" y="491.25" width="8.42" height="10.15" fill="#ffffff" stroke="#9c9c9c" stroke-width="1.1" />
<rect x="52.57" y="491.25" width="8.42" height="10.15" fill="#ffffff" stroke="#9c9c9c" stroke-width="1.1" />
<rect x="60.98" y="491.25" width="8.42" height="10.15" fill="#ffffff" stroke="#9c9c9c" stroke-width="1.1" />
<rect x="69.40" y="491.25" width="8.42" height="10.15" fill="#ffffff" stroke="#9c9c9c" stroke-width="1.1" />
<rect x="77.82" y="491.25" width="8.42" height="10.15" fill="#ffffff" stroke="#9c9c9c" stroke-width="1.1" />
<rect x="86.23" y="491.25" width="8.42" height="10.15" fill="#7489c8" stroke="#9c9c9c" stroke-width="1.1" />
<rect x="94.65" y="491.25" width="8.42" height="10.15" fill="#6178c0" stroke="#9c9c9c" stroke-width="1.1" />
<rect x="103.07" y="491.25" width="8.42" height="10.15" fill="#9eaedc" stroke="#9c9c9c" stroke-width="1.1" />
<rect x="111.49" y="491.25" width="8.42" height="10.15" fill="#a3b2de" stroke="#9c9c9c" stroke-width="1.1" />
<rect x="119.90" y="491.25" width="8.42" height="10.15" fill="#e8ecf8" stroke="#9c9c9c" stroke-width="1.1" />
<rect x="128.32" y="491.25" width="8.42" height="10.15" fill="#bcc7e8" stroke="#9c9c9c" stroke-width="1.1" />
<rect x="136.74" y="491.25" width="8.42" height="10.15" fill="#bcc7e8" stroke="#9c9c9c" stroke-width="1.1" />
<rect x="145.15" y="491.25" width="8.42" height="10.15" fill="#d0d8f0" stroke="#9c9c9c" stroke-width="1.1" />
<rect x="153.57" y="491.25" width="8.42" height="10.15" fill="#d5dcf2" stroke="#9c9c9c" stroke-width="1.1" />
<rect x="161.99" y="491.25" width="8.42" height="10.15" fill="#c0cbea" stroke="#9c9c9c" stroke-width="1.1" />
<rect x="170.41" y="491.25" width="8.42" height="10.15" fill="#b1bee3" stroke="#9c9c9c" stroke-width="1.1" />
<rect x="178.82" y="491.25" width="8.42" height="10.15" fill="#ffffff" stroke="#9c9c9c" stroke-width="1.1" />
<rect x="187.24" y="491.25" width="8.42" height="10.15" fill="#ffffff" stroke="#9c9c9c" stroke-width="1.1" />
<rect x="195.66" y="491.25" width="8.42" height="10.15" fill="#ffffff" stroke="#9c9c9c" stroke-width="1.1" />
<rect x="204.07" y="491.25" width="8.42" height="10.15" fill="#ffffff" stroke="#9c9c9c" stroke-width="1.1" />
<rect x="212.49" y="491.25" width="8.42" height="10.15" fill="#ffffff" stroke="#9c9c9c" stroke-width="1.1" />
<rect x="220.91" y="491.25" width="8.42" height="10.15" fill="#ffffff" stroke="#9c9c9c" stroke-width="1.1" />
<rect x="229.32" y="491.25" width="8.42" height="10.15" fill="#ffffff" stroke="#9c9c9c" stroke-width="1.1" />
<rect x="237.74" y="491.25" width="8.42" height="10.15" fill="#ffffff" stroke="#9c9c9c" stroke-width="1.1" />
<rect x="246.16" y="491.25" width="8.42" height="10.15" fill="#ffffff" stroke="#9c9c9c" stroke-width="1.1" />
<rect x="254.57" y="491.25" width="8.42" height="10.15" fill="#ffffff" stroke="#9c9c9c" stroke-width="1.1" />
<rect x="262.99" y="491.25" width="8.42" height="10.15" fill="#ffffff" stroke="#9c9c9c" stroke-width="1.1" />
<rect x="271.41" y="491.25" width="8.42" height="10.15" fill="#ffffff" stroke="#9c9c9c" stroke-width="1.1" />
<rect x="279.83" y="491.25" width="8.42" height="10.15" fill="#ffffff" stroke="#9c9c9c" stroke-width="1.1" />
<rect x="288.24" y="491.25" width="8.42" height="10.15" fill="#ffffff" stroke="#9c9c9c" stroke-width="1.1" />
<rect x="44.15" y="481.10" width="252.51" height="20.30" fill="none" stroke="#9c9c9c" stroke-width="1.5" />
<rect x="35.95" y="481.10" width="6.50" height="10.15" fill="#74c3ca" stroke="#9c9c9c" stroke-width="1.1" />
<rect x="35.95" y="491.25" width="6.50" height="10.15" fill="#74c3ca" stroke="#9c9c9c" stroke-width="1.1" />
<rect x="35.95" y="481.10" width="6.50" height="20.30" fill="none" stroke="#9c9c9c" stroke-width="1.5" />
<text x="34.20" y="489.18" font-size="8.5" text-anchor="end" font-weight="bold" fill="#111" >QIAGEN</text>
<text x="34.20" y="499.32" font-size="8.5" text-anchor="end" font-weight="bold" fill="#111" >F1CDx</text>
<rect x="300.00" y="430.80" width="2.80" height="43.80" fill="url(#afg)" stroke="none" stroke-width="0" />
<text x="304.80" y="432.60" font-size="6.5" text-anchor="start" font-weight="normal" fill="#2e2e2e" >AF(%)</text>
<text x="305.00" y="441.00" font-size="6.5" text-anchor="start" font-weight="normal" fill="#2e2e2e" >80</text>
<text x="305.00" y="450.60" font-size="6.5" text-anchor="start" font-weight="normal" fill="#2e2e2e" >60</text>
<text x="305.00" y="460.20" font-size="6.5" text-anchor="start" font-weight="normal" fill="#2e2e2e" >40</text>
<text x="305.00" y="469.90" font-size="6.5" text-anchor="start" font-weight="normal" fill="#2e2e2e" >20</text>
<text x="305.00" y="479.80" font-size="6.5" text-anchor="start" font-weight="normal" fill="#2e2e2e" >No Mut</text>
<text x="331.60" y="453.40" font-size="5.6" text-anchor="start" font-weight="bold" fill="#111" >Subtype</text>
<rect x="331.80" y="455.80" width="7.70" height="8.45" fill="#ee3a3a" stroke="#9c9c9c" stroke-width="1.0" />
<text x="341.20" y="462.10" font-size="6.1" text-anchor="start" font-weight="normal" fill="#2e2e2e" >BRAF</text>
<rect x="331.80" y="464.25" width="7.70" height="8.45" fill="#ffd20a" stroke="#9c9c9c" stroke-width="1.0" />
<text x="341.20" y="470.55" font-size="6.1" text-anchor="start" font-weight="normal" fill="#2e2e2e" >RAS</text>
<rect x="331.80" y="472.70" width="7.70" height="8.45" fill="#74c3ca" stroke="#9c9c9c" stroke-width="1.0" />
<text x="341.20" y="479.00" font-size="6.1" text-anchor="start" font-weight="normal" fill="#2e2e2e" >NF1</text>
</svg>
</body></html>
